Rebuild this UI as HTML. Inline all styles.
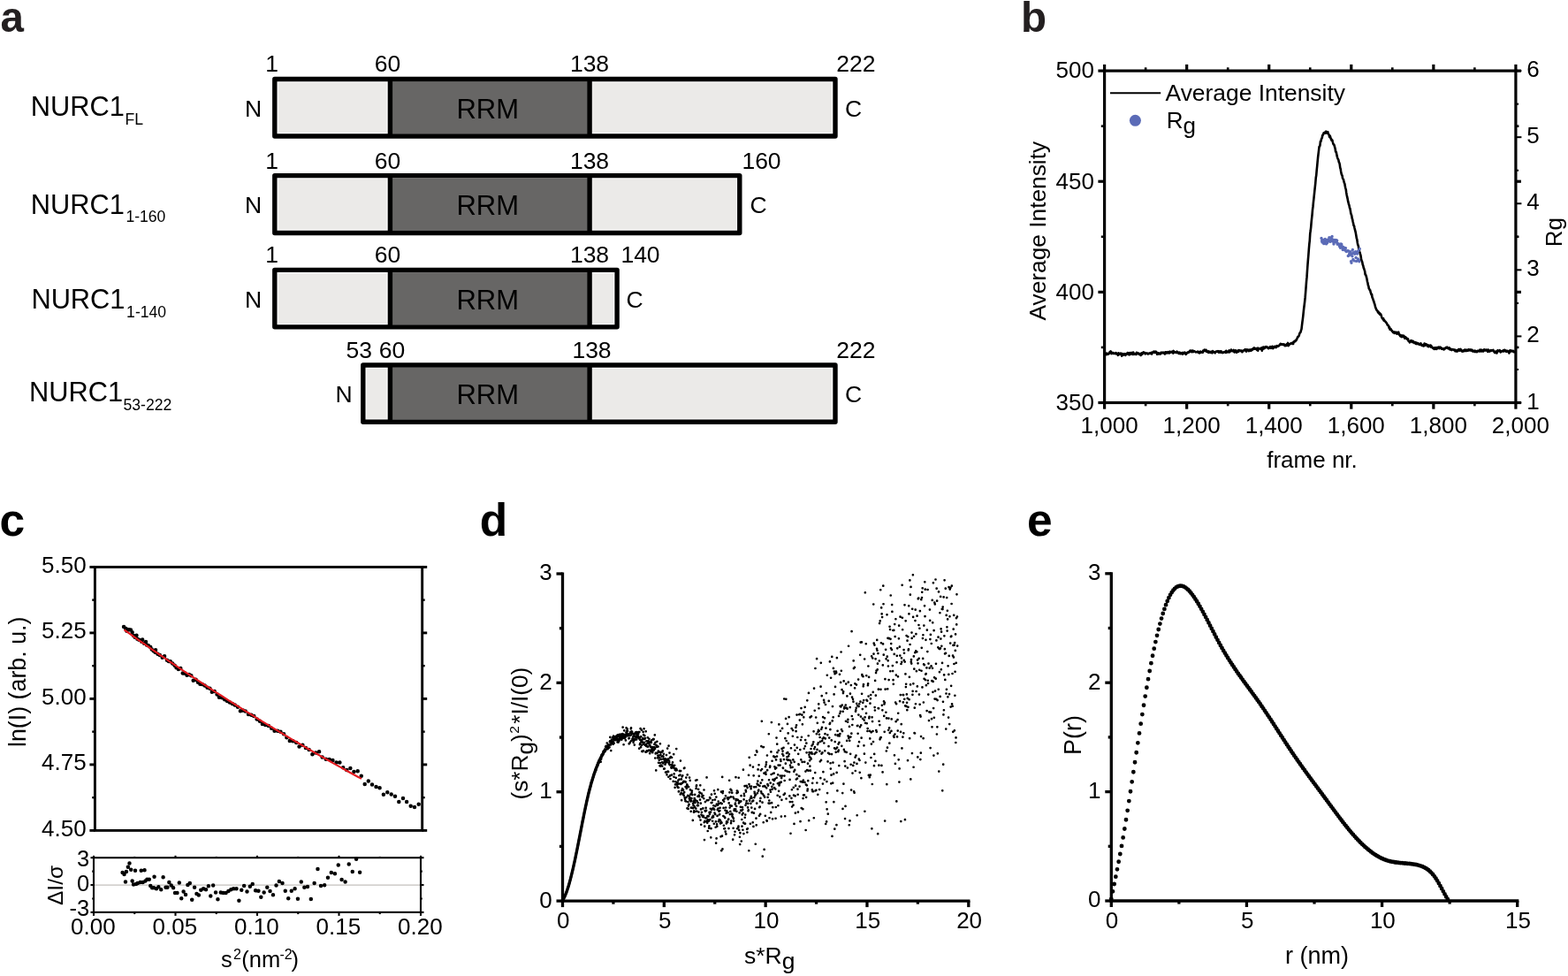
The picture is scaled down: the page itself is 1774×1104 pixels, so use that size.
<!DOCTYPE html>
<html><head><meta charset="utf-8"><title>NURC1 SAXS figure</title>
<style>
html,body{margin:0;padding:0;background:#fff;}
body{width:1774px;height:1104px;overflow:hidden;}
svg{display:block;font-family:'Liberation Sans', Arial, Helvetica, sans-serif;}
</style></head><body>
<svg width="1774" height="1104" viewBox="0 0 1774 1104">
<rect width="1774" height="1104" fill="#fff"/>
<text x="0.5" y="35.9" font-size="47.5" text-anchor="start" font-weight="bold" fill="#231f20" >a</text>
<text x="1154.9" y="35.9" font-size="47.5" text-anchor="start" font-weight="bold" fill="#231f20" >b</text>
<text x="-0.4" y="605.6" font-size="51.5" text-anchor="start" font-weight="bold" >c</text>
<text x="542.8" y="605.6" font-size="51.5" text-anchor="start" font-weight="bold" >d</text>
<text x="1162.1" y="605.6" font-size="51.5" text-anchor="start" font-weight="bold" >e</text>
<rect x="314.7" y="93.35" width="626.4" height="56.7" fill="#ebeae8"/>
<rect x="441.4" y="92.15" width="225.7" height="59.1" fill="#676665"/>
<rect x="437.4" y="92.15" width="1.3" height="59.1" fill="#fff"/>
<line x1="441.4" y1="89.45" x2="441.4" y2="153.95" stroke="#000" stroke-width="5.4"/>
<line x1="667.1" y1="89.45" x2="667.1" y2="153.95" stroke="#000" stroke-width="5.4"/>
<rect x="310.8" y="89.45" width="634.2" height="64.5" fill="none" stroke="#000" stroke-width="5.4" stroke-linejoin="round"/>
<text x="551.75" y="133.8" font-size="31" text-anchor="middle" >RRM</text>
<text x="286.6" y="131.9" font-size="26.5" text-anchor="middle" >N</text>
<text x="965.6" y="131.9" font-size="26.5" text-anchor="middle" >C</text>
<text x="307.5" y="81.45" font-size="26.5" text-anchor="middle" >1</text>
<text x="438.5" y="81.45" font-size="26.5" text-anchor="middle" >60</text>
<text x="667" y="81.45" font-size="26.5" text-anchor="middle" >138</text>
<text x="968.3" y="81.45" font-size="26.5" text-anchor="middle" >222</text>
<text x="34.7" y="131.3" font-size="30.8" text-anchor="start" >NURC1</text>
<text x="141.6" y="141" font-size="17.6" text-anchor="start" >FL</text>
<rect x="314.7" y="202.5" width="518.2" height="57.1" fill="#ebeae8"/>
<rect x="441.4" y="201.3" width="225.7" height="59.5" fill="#676665"/>
<rect x="437.4" y="201.3" width="1.3" height="59.5" fill="#fff"/>
<line x1="441.4" y1="198.6" x2="441.4" y2="263.5" stroke="#000" stroke-width="5.4"/>
<line x1="667.1" y1="198.6" x2="667.1" y2="263.5" stroke="#000" stroke-width="5.4"/>
<rect x="310.8" y="198.6" width="526" height="64.9" fill="none" stroke="#000" stroke-width="5.4" stroke-linejoin="round"/>
<text x="551.75" y="243.15" font-size="31" text-anchor="middle" >RRM</text>
<text x="286.6" y="241.25" font-size="26.5" text-anchor="middle" >N</text>
<text x="858" y="241.25" font-size="26.5" text-anchor="middle" >C</text>
<text x="307.5" y="190.6" font-size="26.5" text-anchor="middle" >1</text>
<text x="438.5" y="190.6" font-size="26.5" text-anchor="middle" >60</text>
<text x="667" y="190.6" font-size="26.5" text-anchor="middle" >138</text>
<text x="861.5" y="190.6" font-size="26.5" text-anchor="middle" >160</text>
<text x="34.7" y="241.7" font-size="30.8" text-anchor="start" >NURC1</text>
<text x="142.4" y="251.4" font-size="17.6" text-anchor="start" >1-160</text>
<rect x="314.7" y="309.25" width="379.5" height="56.7" fill="#ebeae8"/>
<rect x="441.4" y="308.05" width="225.7" height="59.1" fill="#676665"/>
<rect x="437.4" y="308.05" width="1.3" height="59.1" fill="#fff"/>
<line x1="441.4" y1="305.35" x2="441.4" y2="369.85" stroke="#000" stroke-width="5.4"/>
<line x1="667.1" y1="305.35" x2="667.1" y2="369.85" stroke="#000" stroke-width="5.4"/>
<rect x="310.8" y="305.35" width="387.3" height="64.5" fill="none" stroke="#000" stroke-width="5.4" stroke-linejoin="round"/>
<text x="551.75" y="349.7" font-size="31" text-anchor="middle" >RRM</text>
<text x="286.6" y="347.8" font-size="26.5" text-anchor="middle" >N</text>
<text x="718" y="347.8" font-size="26.5" text-anchor="middle" >C</text>
<text x="307.5" y="297.35" font-size="26.5" text-anchor="middle" >1</text>
<text x="438.5" y="297.35" font-size="26.5" text-anchor="middle" >60</text>
<text x="667" y="297.35" font-size="26.5" text-anchor="middle" >138</text>
<text x="724.5" y="297.35" font-size="26.5" text-anchor="middle" >140</text>
<text x="35.4" y="348.9" font-size="30.8" text-anchor="start" >NURC1</text>
<text x="143.1" y="358.6" font-size="17.6" text-anchor="start" >1-140</text>
<rect x="414.7" y="416.9" width="526.4" height="56.5" fill="#ebeae8"/>
<rect x="441.4" y="415.7" width="225.7" height="58.9" fill="#676665"/>
<rect x="437.4" y="415.7" width="1.3" height="58.9" fill="#fff"/>
<line x1="441.4" y1="413" x2="441.4" y2="477.3" stroke="#000" stroke-width="5.4"/>
<line x1="667.1" y1="413" x2="667.1" y2="477.3" stroke="#000" stroke-width="5.4"/>
<rect x="410.8" y="413" width="534.2" height="64.3" fill="none" stroke="#000" stroke-width="5.4" stroke-linejoin="round"/>
<text x="551.75" y="457.25" font-size="31" text-anchor="middle" >RRM</text>
<text x="389" y="455.35" font-size="26.5" text-anchor="middle" >N</text>
<text x="965.6" y="455.35" font-size="26.5" text-anchor="middle" >C</text>
<text x="406.3" y="405" font-size="26.5" text-anchor="middle" >53</text>
<text x="443.4" y="405" font-size="26.5" text-anchor="middle" >60</text>
<text x="669.5" y="405" font-size="26.5" text-anchor="middle" >138</text>
<text x="968.3" y="405" font-size="26.5" text-anchor="middle" >222</text>
<text x="33" y="454" font-size="30.8" text-anchor="start" >NURC1</text>
<text x="139.5" y="463.7" font-size="17.6" text-anchor="start" >53-222</text>
<polyline points="1249.6,401.01 1250.07,400.56 1250.53,400.45 1251,400.62 1251.46,399.91 1251.93,401.15 1252.39,399.67 1252.86,400.84 1253.32,400.5 1253.79,400.3 1254.25,400.33 1254.72,400 1255.18,398.59 1255.65,398.14 1256.11,398.48 1256.58,397.35 1257.04,398.43 1257.51,400.12 1257.98,398.98 1258.44,399.66 1258.91,398.79 1259.37,399.83 1259.84,399.83 1260.3,399.48 1260.77,399.68 1261.23,400.16 1261.7,399.68 1262.16,400.06 1262.63,399.19 1263.09,400.07 1263.56,400.22 1264.02,400.82 1264.49,400.52 1264.95,401.83 1265.42,399.32 1265.89,400.2 1266.35,400.93 1266.82,400.31 1267.28,399.77 1267.75,400.34 1268.21,399.66 1268.68,400.36 1269.14,402.62 1269.61,402.01 1270.07,399.96 1270.54,400.53 1271,400.72 1271.47,401.47 1271.93,400.72 1272.4,400.23 1272.87,401.14 1273.33,401.83 1273.8,400.87 1274.26,400.32 1274.73,399.97 1275.19,400.32 1275.66,399.08 1276.12,400.52 1276.59,399.24 1277.05,400.32 1277.52,401.4 1277.98,400.74 1278.45,399.08 1278.91,400.78 1279.38,400.56 1279.84,399.33 1280.31,398.93 1280.78,399.45 1281.24,399.09 1281.71,401.05 1282.17,398.44 1282.64,399.68 1283.1,400.71 1283.57,400.64 1284.03,400.44 1284.5,400.4 1284.96,400.15 1285.43,401 1285.89,398.78 1286.36,399.64 1286.82,399.2 1287.29,400.09 1287.75,400.22 1288.22,399.55 1288.69,399.94 1289.15,401 1289.62,401.01 1290.08,400.5 1290.55,401.96 1291.01,401.58 1291.48,399.41 1291.94,399.82 1292.41,400.67 1292.87,399.25 1293.34,398.66 1293.8,398.28 1294.27,399.03 1294.73,398.89 1295.2,398.97 1295.66,400.34 1296.13,399.86 1296.6,400.02 1297.06,399.45 1297.53,399.71 1297.99,399.56 1298.46,399.87 1298.92,400.51 1299.39,399.97 1299.85,399.8 1300.32,399.83 1300.78,399.22 1301.25,399.22 1301.71,399.43 1302.18,400.1 1302.64,398.82 1303.11,400.51 1303.57,399.1 1304.04,398.55 1304.51,398.53 1304.97,397.77 1305.44,398.47 1305.9,397.62 1306.37,398.96 1306.83,398.11 1307.3,397.72 1307.76,398.57 1308.23,397.95 1308.69,399.23 1309.16,400.74 1309.62,400.26 1310.09,399.21 1310.55,399.29 1311.02,400.5 1311.48,400.33 1311.95,399.65 1312.42,399.86 1312.88,400.49 1313.35,399.69 1313.81,398.68 1314.28,399.4 1314.74,399.21 1315.21,398.87 1315.67,398.61 1316.14,399.29 1316.6,398.76 1317.07,399.47 1317.53,399.21 1318,400.49 1318.46,398.22 1318.93,398.27 1319.4,398.2 1319.86,399.09 1320.33,399.41 1320.79,398.19 1321.26,398.17 1321.72,398.13 1322.19,398.53 1322.65,399.55 1323.12,398.63 1323.58,397.68 1324.05,398.54 1324.51,398.67 1324.98,398.58 1325.44,398.1 1325.91,398.48 1326.37,397.55 1326.84,398.38 1327.31,399.53 1327.77,396.91 1328.24,398.35 1328.7,398.74 1329.17,398.32 1329.63,398.19 1330.1,398.54 1330.56,398.73 1331.03,399.17 1331.49,397.64 1331.96,398.76 1332.42,398.25 1332.89,398.75 1333.35,399.51 1333.82,399.98 1334.28,399.8 1334.75,398.66 1335.22,399.8 1335.68,400.19 1336.15,399.8 1336.61,399.9 1337.08,399.08 1337.54,399.43 1338.01,400.64 1338.47,398.93 1338.94,400.01 1339.4,399.26 1339.87,399.43 1340.33,398.51 1340.8,399.02 1341.26,399.79 1341.73,400.85 1342.19,400.18 1342.66,399.4 1343.13,399.31 1343.59,398.51 1344.06,398.99 1344.52,398.31 1344.99,397.96 1345.45,398.37 1345.92,397.82 1346.38,396.71 1346.85,397.29 1347.31,396.93 1347.78,396.62 1348.24,398.14 1348.71,398.01 1349.17,396.61 1349.64,397.45 1350.1,398 1350.57,396.99 1351.04,397.13 1351.5,397.46 1351.97,397.69 1352.43,397.88 1352.9,398.4 1353.36,398.32 1353.83,398.1 1354.29,398.18 1354.76,398.11 1355.22,397.51 1355.69,398.23 1356.15,398.97 1356.62,398.46 1357.08,399.43 1357.55,398.17 1358.01,397.6 1358.48,398.66 1358.95,398.54 1359.41,398.04 1359.88,398.4 1360.34,398.79 1360.81,398.73 1361.27,396.57 1361.74,397.24 1362.2,396.85 1362.67,395.61 1363.13,396.25 1363.6,396.88 1364.06,395.88 1364.53,395.76 1364.99,397.58 1365.46,396.92 1365.93,397.37 1366.39,398.4 1366.86,398.12 1367.32,397.43 1367.79,398.85 1368.25,398.48 1368.72,397.96 1369.18,398.28 1369.65,398.75 1370.11,397.73 1370.58,398.58 1371.04,397.75 1371.51,399.3 1371.97,397.11 1372.44,398.28 1372.9,397.73 1373.37,398.26 1373.84,398.33 1374.3,398.98 1374.77,399.33 1375.23,398.05 1375.7,397.91 1376.16,397.45 1376.63,397.69 1377.09,397.55 1377.56,397.75 1378.02,397 1378.49,398.4 1378.95,398.69 1379.42,397.88 1379.88,397.27 1380.35,397.58 1380.81,397.38 1381.28,398.74 1381.75,397.36 1382.21,398.77 1382.68,398.62 1383.14,399.05 1383.61,398.79 1384.07,398.27 1384.54,398.62 1385,398.3 1385.47,398.09 1385.93,397.81 1386.4,398.07 1386.86,398.99 1387.33,396.77 1387.79,397.83 1388.26,397.6 1388.72,398.37 1389.19,398.35 1389.66,397.55 1390.12,397.75 1390.59,396.45 1391.05,398.46 1391.52,396.87 1391.98,397.39 1392.45,397.03 1392.91,395.48 1393.38,396.43 1393.84,396.95 1394.31,397.26 1394.77,396.83 1395.24,396.64 1395.7,395.84 1396.17,397.91 1396.63,398.46 1397.1,397.27 1397.57,397.39 1398.03,396.29 1398.5,397.7 1398.96,398.74 1399.43,397.66 1399.89,397.98 1400.36,397.64 1400.82,396.36 1401.29,397.82 1401.75,396.18 1402.22,396.34 1402.68,396.41 1403.15,396.57 1403.61,396.6 1404.08,397.25 1404.54,396.52 1405.01,396.66 1405.48,398.26 1405.94,397.36 1406.41,397.06 1406.87,396.38 1407.34,396.41 1407.8,395.89 1408.27,396.26 1408.73,395.26 1409.2,396.13 1409.66,396.25 1410.13,397.62 1410.59,395.4 1411.06,395.51 1411.52,396.24 1411.99,395.69 1412.46,395.8 1412.92,397.17 1413.39,395.79 1413.85,395.45 1414.32,395.75 1414.78,396.77 1415.25,396.8 1415.71,395.3 1416.18,395.53 1416.64,395.88 1417.11,395.34 1417.57,394.28 1418.04,395.02 1418.5,394.88 1418.97,393.4 1419.43,394.02 1419.9,394.75 1420.37,394.66 1420.83,394.04 1421.3,394.97 1421.76,395.36 1422.23,395.95 1422.69,393.71 1423.16,396.67 1423.62,393.88 1424.09,394.49 1424.55,394.23 1425.02,394.53 1425.48,394.58 1425.95,394.04 1426.41,394.97 1426.88,394.56 1427.34,393.35 1427.81,396.7 1428.28,394.98 1428.74,394.94 1429.21,392.55 1429.67,394.26 1430.14,394.08 1430.6,394.09 1431.07,393.46 1431.53,392.31 1432,393 1432.46,392.17 1432.93,392.29 1433.39,393.26 1433.86,392.76 1434.32,392.98 1434.79,393.09 1435.25,394.21 1435.72,393.94 1436.19,393.09 1436.65,393.37 1437.12,392.2 1437.58,392.5 1438.05,393.88 1438.51,392.68 1438.98,392.89 1439.44,391.77 1439.91,393.77 1440.37,394.21 1440.84,392.98 1441.3,392.95 1441.77,392.36 1442.23,391.76 1442.7,391.83 1443.16,392.95 1443.63,393.12 1444.1,391.77 1444.56,391.24 1445.03,391.68 1445.49,391.29 1445.96,391.86 1446.42,391.19 1446.89,391.29 1447.35,390.89 1447.82,389.92 1448.28,389.94 1448.75,388.85 1449.21,389.65 1449.68,389.23 1450.14,389.64 1450.61,389.3 1451.07,389.76 1451.54,389.9 1452.01,389.29 1452.47,389.45 1452.94,389.46 1453.4,390.61 1453.87,391.22 1454.33,390.76 1454.8,390.04 1455.26,391 1455.73,389.25 1456.19,390.77 1456.66,389.63 1457.12,387.92 1457.59,391.17 1458.05,390.71 1458.52,389.21 1458.99,389.68 1459.45,389.23 1459.92,388.9 1460.38,388.34 1460.85,388.46 1461.31,388.53 1461.78,387.96 1462.24,388.93 1462.71,387.67 1463.17,389 1463.64,386.55 1464.1,386.87 1464.57,385.84 1465.03,385.61 1465.5,386.17 1465.96,384.8 1466.43,385.12 1466.9,384.38 1467.36,383.07 1467.83,382.25 1468.29,381.02 1468.76,380.86 1469.22,380.45 1469.69,379.67 1470.15,377.69 1470.62,376.57 1471.08,376.24 1471.55,375.49 1472.01,373.66 1472.48,372.37 1472.94,368.47 1473.41,364.51 1473.87,361.07 1474.34,357.08 1474.81,352.37 1475.27,348.24 1475.74,344.66 1476.2,340.74 1476.67,336.19 1477.13,330.32 1477.6,324.41 1478.06,318.15 1478.53,313.38 1478.99,306.08 1479.46,299.71 1479.92,293.55 1480.39,288.17 1480.85,281.72 1481.32,276.2 1481.78,272.02 1482.25,264.14 1482.72,261.07 1483.18,257.04 1483.65,251.39 1484.11,246.9 1484.58,242.53 1485.04,236.98 1485.51,233.48 1485.97,228.48 1486.44,224.44 1486.9,219.8 1487.37,215.3 1487.83,211.2 1488.3,206.76 1488.76,200.99 1489.23,198.33 1489.69,192.66 1490.16,188.17 1490.63,182.86 1491.09,178.2 1491.56,174.15 1492.02,170.33 1492.49,166.12 1492.95,165.57 1493.42,164.63 1493.88,160.05 1494.35,160.17 1494.81,158.01 1495.28,156.53 1495.74,155.95 1496.21,152.98 1496.67,152.74 1497.14,152 1497.6,150.37 1498.07,150.19 1498.54,150.05 1499,149.6 1499.47,150.63 1499.93,148.76 1500.4,150.31 1500.86,148.96 1501.33,150.42 1501.79,150.08 1502.26,149.25 1502.72,151.57 1503.19,151.77 1503.65,152.74 1504.12,154.87 1504.58,153.37 1505.05,154.54 1505.52,156.82 1505.98,156.83 1506.45,158.68 1506.91,158.74 1507.38,158.68 1507.84,160.75 1508.31,162.54 1508.77,163.41 1509.24,163.49 1509.7,164.81 1510.17,166.57 1510.63,168.24 1511.1,171.52 1511.56,171.76 1512.03,173.23 1512.49,175.87 1512.96,177.64 1513.43,179.24 1513.89,179.93 1514.36,180.99 1514.82,183.41 1515.29,184.15 1515.75,185.99 1516.22,189.71 1516.68,190.97 1517.15,194.01 1517.61,196.52 1518.08,197.96 1518.54,198.57 1519.01,201.49 1519.47,202.36 1519.94,203.07 1520.4,205.04 1520.87,206.87 1521.34,207.75 1521.8,210.55 1522.27,212.85 1522.73,214.1 1523.2,217.89 1523.66,220.49 1524.13,222.61 1524.59,224.62 1525.06,227.39 1525.52,229.06 1525.99,231.18 1526.45,232.11 1526.92,235.17 1527.38,235.68 1527.85,238.19 1528.31,241.39 1528.78,242.52 1529.25,244 1529.71,246.99 1530.18,248.25 1530.64,250.74 1531.11,252.77 1531.57,255.19 1532.04,255.39 1532.5,257.95 1532.97,259.81 1533.43,261.63 1533.9,263.85 1534.36,266.51 1534.83,269.56 1535.29,270.77 1535.76,274.29 1536.22,276.77 1536.69,277.84 1537.16,280.21 1537.62,282.95 1538.09,284.35 1538.55,285.59 1539.02,287.79 1539.48,289.04 1539.95,292.21 1540.41,294.49 1540.88,295.51 1541.34,296.98 1541.81,299.66 1542.27,300.49 1542.74,302.9 1543.2,303.89 1543.67,305.4 1544.13,306.72 1544.6,310.47 1545.07,310.56 1545.53,311.9 1546,313.7 1546.46,315.53 1546.93,318.29 1547.39,319.82 1547.86,322.8 1548.32,323.45 1548.79,326.5 1549.25,326.83 1549.72,328.18 1550.18,328.33 1550.65,330.49 1551.11,331.85 1551.58,333.29 1552.05,332.99 1552.51,336.45 1552.98,337.18 1553.44,338.68 1553.91,340.12 1554.37,341.11 1554.84,343 1555.3,344.06 1555.77,345.97 1556.23,347.95 1556.7,348.76 1557.16,350.08 1557.63,351.04 1558.09,351.24 1558.56,352.02 1559.02,353.22 1559.49,352.49 1559.96,354.37 1560.42,353.96 1560.89,354.19 1561.35,355.77 1561.82,355.11 1562.28,355.62 1562.75,357 1563.21,358.58 1563.68,359.84 1564.14,359.98 1564.61,361.11 1565.07,360.16 1565.54,362.62 1566,361.9 1566.47,362.84 1566.93,363.34 1567.4,363.65 1567.87,364.36 1568.33,364.97 1568.8,365.51 1569.26,366.31 1569.73,367.7 1570.19,367.63 1570.66,368.29 1571.12,368.71 1571.59,371.01 1572.05,370.22 1572.52,372.67 1572.98,371.74 1573.45,371.9 1573.91,373.24 1574.38,373.77 1574.84,373.76 1575.31,375.14 1575.78,375.26 1576.24,376.19 1576.71,375.92 1577.17,375.5 1577.64,376.9 1578.1,376.11 1578.57,376.15 1579.03,375.66 1579.5,375.75 1579.96,377.38 1580.43,376.08 1580.89,377.55 1581.36,377.4 1581.82,377.38 1582.29,375.66 1582.75,378 1583.22,378.71 1583.69,378.64 1584.15,380.06 1584.62,379.02 1585.08,380.72 1585.55,380.57 1586.01,381.09 1586.48,379.51 1586.94,381 1587.41,379.61 1587.87,380.56 1588.34,379.84 1588.8,380.58 1589.27,382.82 1589.73,381.25 1590.2,381.51 1590.66,382.38 1591.13,381.89 1591.6,383.39 1592.06,383.83 1592.53,383.11 1592.99,383.32 1593.46,385.64 1593.92,386.14 1594.39,386.14 1594.85,387.38 1595.32,386.35 1595.78,386.44 1596.25,385.28 1596.71,385.11 1597.18,386.43 1597.64,385.78 1598.11,387.04 1598.58,385.81 1599.04,386.2 1599.51,387.3 1599.97,387.99 1600.44,387.65 1600.9,387.02 1601.37,388.14 1601.83,388.96 1602.3,387.64 1602.76,387.74 1603.23,389.09 1603.69,389.01 1604.16,388.06 1604.62,388.98 1605.09,388.84 1605.55,389.79 1606.02,389.24 1606.49,389.81 1606.95,389.14 1607.42,388.3 1607.88,389.78 1608.35,390.74 1608.81,389.8 1609.28,391.03 1609.74,390.33 1610.21,390.19 1610.67,391.43 1611.14,389.96 1611.6,388.49 1612.07,390.87 1612.53,389.34 1613,389.62 1613.46,389.37 1613.93,389.47 1614.4,390.37 1614.86,391.47 1615.33,391.71 1615.79,390.42 1616.26,392.28 1616.72,390.78 1617.19,390.98 1617.65,391.52 1618.12,390.67 1618.58,390.49 1619.05,392.77 1619.51,391.58 1619.98,392.68 1620.44,392.79 1620.91,393.78 1621.37,393.61 1621.84,394.49 1622.31,393.65 1622.77,394.86 1623.24,393.38 1623.7,393.48 1624.17,394.82 1624.63,393.67 1625.1,393.13 1625.56,394.81 1626.03,393.67 1626.49,393.1 1626.96,393.67 1627.42,392.58 1627.89,393.95 1628.35,394.23 1628.82,392.81 1629.28,392.63 1629.75,393.65 1630.22,393.88 1630.68,393.41 1631.15,394.68 1631.61,394.06 1632.08,394.78 1632.54,394.89 1633.01,394.64 1633.47,395.45 1633.94,394.27 1634.4,395.01 1634.87,393.88 1635.33,393.65 1635.8,393.12 1636.26,393.37 1636.73,393.55 1637.19,392.71 1637.66,393.38 1638.13,394.06 1638.59,394.29 1639.06,394.41 1639.52,393.33 1639.99,393.66 1640.45,395.5 1640.92,395.18 1641.38,395.42 1641.85,394.99 1642.31,396.05 1642.78,395.67 1643.24,395.18 1643.71,395.32 1644.17,395.36 1644.64,395.84 1645.11,395.55 1645.57,396.44 1646.04,395.71 1646.5,397.26 1646.97,396.45 1647.43,397.28 1647.9,396.2 1648.36,396.23 1648.83,397.45 1649.29,396.55 1649.76,395.9 1650.22,395.11 1650.69,395.08 1651.15,396.72 1651.62,395.62 1652.08,396.34 1652.55,394.95 1653.02,396.13 1653.48,396.51 1653.95,397.52 1654.41,396.6 1654.88,397.57 1655.34,397.12 1655.81,396.29 1656.27,397.17 1656.74,397.09 1657.2,395.6 1657.67,396.92 1658.13,396.89 1658.6,396.13 1659.06,395.64 1659.53,396.79 1659.99,396.36 1660.46,396.81 1660.93,396.63 1661.39,395.27 1661.86,396.44 1662.32,395.48 1662.79,395.6 1663.25,395.75 1663.72,395.56 1664.18,396.6 1664.65,395.73 1665.11,395.65 1665.58,396.48 1666.04,397.47 1666.51,396.5 1666.97,397.24 1667.44,397.51 1667.9,397.53 1668.37,397.92 1668.84,396.65 1669.3,397.97 1669.77,397.62 1670.23,397.28 1670.7,397.01 1671.16,398.16 1671.63,396.71 1672.09,397.03 1672.56,397 1673.02,397.16 1673.49,397.31 1673.95,395.83 1674.42,397.54 1674.88,395.88 1675.35,396.68 1675.81,395.68 1676.28,397.54 1676.75,396.28 1677.21,396.84 1677.68,397.15 1678.14,397.49 1678.61,395.67 1679.07,396.45 1679.54,395.38 1680,396.14 1680.47,396.54 1680.93,396.43 1681.4,395.57 1681.86,396.04 1682.33,395.77 1682.79,397.04 1683.26,397.83 1683.72,395.55 1684.19,396.87 1684.66,396.88 1685.12,397.64 1685.59,396.52 1686.05,396.55 1686.52,396.01 1686.98,396.97 1687.45,396.44 1687.91,396.32 1688.38,396.44 1688.84,396.4 1689.31,395.83 1689.77,397.51 1690.24,397.64 1690.7,397.54 1691.17,399.01 1691.64,399.06 1692.1,397.6 1692.57,397.66 1693.03,399.33 1693.5,399.4 1693.96,397.43 1694.43,396.3 1694.89,397.04 1695.36,397.14 1695.82,396.78 1696.29,397.24 1696.75,396.13 1697.22,396.89 1697.68,398.43 1698.15,397.58 1698.61,397.13 1699.08,397.54 1699.55,397.4 1700.01,396.86 1700.48,396.86 1700.94,396.13 1701.41,397.51 1701.87,397.23 1702.34,395.77 1702.8,396.31 1703.27,396.48 1703.73,396.55 1704.2,397.89 1704.66,397.49 1705.13,396.89 1705.59,397.42 1706.06,397.12 1706.52,398.21 1706.99,398.32 1707.46,399.49 1707.92,397.92 1708.39,396.29 1708.85,397.17 1709.32,397.43 1709.78,396.75 1710.25,396.6 1710.71,397.13 1711.18,397.41 1711.64,397.26 1712.11,396.92 1712.57,398.07 1713.04,397.56 1713.5,397.8 1713.97,397.64 1714.43,398.5 1714.9,399.1" fill="none" stroke="#000" stroke-width="2.6" stroke-linejoin="round"/>
<path d="M1495 269.55h0M1495.47 272.43h0M1495.93 274.01h0M1496.4 272.37h0M1496.86 273.61h0M1497.33 271.45h0M1497.79 275.67h0M1498.26 275.37h0M1498.72 273.89h0M1499.19 270.45h0M1499.65 271.55h0M1500.12 274.83h0M1500.58 275.89h0M1501.05 273.26h0M1501.51 274.64h0M1501.98 271.23h0M1502.44 271.69h0M1502.91 271.78h0M1503.38 272.28h0M1503.84 268.78h0M1504.31 272.84h0M1504.77 273.39h0M1505.24 269.15h0M1505.7 268.81h0M1506.17 271.77h0M1506.63 270.18h0M1507.1 267.42h0M1507.56 273.02h0M1508.03 272.14h0M1508.49 271.31h0M1508.96 275.97h0M1509.42 272.86h0M1509.89 271.58h0M1510.35 273.24h0M1510.82 271.48h0M1511.29 272.08h0M1511.75 274.12h0M1512.22 271.59h0M1512.68 272.27h0M1513.15 276.37h0M1513.61 275.5h0M1514.08 275.9h0M1514.54 275.94h0M1515.01 276.36h0M1515.47 278.52h0M1515.94 276.51h0M1516.4 280.2h0M1516.87 275.93h0M1517.33 277.61h0M1517.8 276.2h0M1518.27 278.46h0M1518.73 280.43h0M1519.2 282.52h0M1519.66 279.42h0M1520.13 281.06h0M1520.59 280.94h0M1521.06 280.8h0M1521.52 280.53h0M1521.99 283.16h0M1522.45 280.61h0M1522.92 284.25h0M1523.38 284.59h0M1523.85 283.94h0M1524.31 283.84h0M1524.78 283.71h0M1525.24 289.48h0M1525.71 284.02h0M1526.18 288.95h0M1526.64 287.32h0M1527.11 285.68h0M1527.57 288.07h0M1528.04 284.71h0M1528.5 295.59h0M1528.97 297.2h0M1529.43 287.22h0M1529.9 289.86h0M1530.36 282.55h0M1530.83 293.56h0M1531.29 285.72h0M1531.76 294.81h0M1532.22 286.19h0M1532.69 287.18h0M1533.15 286.43h0M1533.62 284.74h0M1534.09 291.44h0M1534.55 295.42h0M1535.02 285h0M1535.48 287.1h0M1535.95 286.79h0M1536.41 292.85h0M1536.88 283.63h0M1537.34 294.06h0M1537.81 295.77h0M1538.27 281.51h0" stroke="#5b6bb7" stroke-width="3.4" stroke-linecap="round" fill="none"/>
<rect x="1249.6" y="80.1" width="465.3" height="375.4" fill="none" stroke="#000" stroke-width="3.2"/>
<line x1="1249.6" y1="455.5" x2="1249.6" y2="462.7" stroke="#000" stroke-width="3.2"/>
<line x1="1249.6" y1="80.1" x2="1249.6" y2="72.9" stroke="#000" stroke-width="3.2"/>
<line x1="1296.13" y1="455.5" x2="1296.13" y2="459.3" stroke="#000" stroke-width="2.6"/>
<line x1="1296.13" y1="80.1" x2="1296.13" y2="76.3" stroke="#000" stroke-width="2.6"/>
<line x1="1342.66" y1="455.5" x2="1342.66" y2="462.7" stroke="#000" stroke-width="3.2"/>
<line x1="1342.66" y1="80.1" x2="1342.66" y2="72.9" stroke="#000" stroke-width="3.2"/>
<line x1="1389.19" y1="455.5" x2="1389.19" y2="459.3" stroke="#000" stroke-width="2.6"/>
<line x1="1389.19" y1="80.1" x2="1389.19" y2="76.3" stroke="#000" stroke-width="2.6"/>
<line x1="1435.72" y1="455.5" x2="1435.72" y2="462.7" stroke="#000" stroke-width="3.2"/>
<line x1="1435.72" y1="80.1" x2="1435.72" y2="72.9" stroke="#000" stroke-width="3.2"/>
<line x1="1482.25" y1="455.5" x2="1482.25" y2="459.3" stroke="#000" stroke-width="2.6"/>
<line x1="1482.25" y1="80.1" x2="1482.25" y2="76.3" stroke="#000" stroke-width="2.6"/>
<line x1="1528.78" y1="455.5" x2="1528.78" y2="462.7" stroke="#000" stroke-width="3.2"/>
<line x1="1528.78" y1="80.1" x2="1528.78" y2="72.9" stroke="#000" stroke-width="3.2"/>
<line x1="1575.31" y1="455.5" x2="1575.31" y2="459.3" stroke="#000" stroke-width="2.6"/>
<line x1="1575.31" y1="80.1" x2="1575.31" y2="76.3" stroke="#000" stroke-width="2.6"/>
<line x1="1621.84" y1="455.5" x2="1621.84" y2="462.7" stroke="#000" stroke-width="3.2"/>
<line x1="1621.84" y1="80.1" x2="1621.84" y2="72.9" stroke="#000" stroke-width="3.2"/>
<line x1="1668.37" y1="455.5" x2="1668.37" y2="459.3" stroke="#000" stroke-width="2.6"/>
<line x1="1668.37" y1="80.1" x2="1668.37" y2="76.3" stroke="#000" stroke-width="2.6"/>
<line x1="1714.9" y1="455.5" x2="1714.9" y2="462.7" stroke="#000" stroke-width="3.2"/>
<line x1="1714.9" y1="80.1" x2="1714.9" y2="72.9" stroke="#000" stroke-width="3.2"/>
<line x1="1249.6" y1="455.5" x2="1242.4" y2="455.5" stroke="#000" stroke-width="3.2"/>
<line x1="1714.9" y1="455.5" x2="1720.9" y2="455.5" stroke="#000" stroke-width="3.2"/>
<line x1="1249.6" y1="392.93" x2="1245.8" y2="392.93" stroke="#000" stroke-width="2.6"/>
<line x1="1714.9" y1="392.93" x2="1718.4" y2="392.93" stroke="#000" stroke-width="2.6"/>
<line x1="1249.6" y1="330.37" x2="1242.4" y2="330.37" stroke="#000" stroke-width="3.2"/>
<line x1="1714.9" y1="330.37" x2="1720.9" y2="330.37" stroke="#000" stroke-width="3.2"/>
<line x1="1249.6" y1="267.8" x2="1245.8" y2="267.8" stroke="#000" stroke-width="2.6"/>
<line x1="1714.9" y1="267.8" x2="1718.4" y2="267.8" stroke="#000" stroke-width="2.6"/>
<line x1="1249.6" y1="205.23" x2="1242.4" y2="205.23" stroke="#000" stroke-width="3.2"/>
<line x1="1714.9" y1="205.23" x2="1720.9" y2="205.23" stroke="#000" stroke-width="3.2"/>
<line x1="1249.6" y1="142.67" x2="1245.8" y2="142.67" stroke="#000" stroke-width="2.6"/>
<line x1="1714.9" y1="142.67" x2="1718.4" y2="142.67" stroke="#000" stroke-width="2.6"/>
<line x1="1249.6" y1="80.1" x2="1242.4" y2="80.1" stroke="#000" stroke-width="3.2"/>
<line x1="1714.9" y1="80.1" x2="1720.9" y2="80.1" stroke="#000" stroke-width="3.2"/>
<line x1="1714.9" y1="455.5" x2="1721.4" y2="455.5" stroke="#000" stroke-width="2.0"/>
<line x1="1714.9" y1="417.96" x2="1718.1" y2="417.96" stroke="#000" stroke-width="2.0"/>
<line x1="1714.9" y1="380.42" x2="1721.4" y2="380.42" stroke="#000" stroke-width="2.0"/>
<line x1="1714.9" y1="342.88" x2="1718.1" y2="342.88" stroke="#000" stroke-width="2.0"/>
<line x1="1714.9" y1="305.34" x2="1721.4" y2="305.34" stroke="#000" stroke-width="2.0"/>
<line x1="1714.9" y1="267.8" x2="1718.1" y2="267.8" stroke="#000" stroke-width="2.0"/>
<line x1="1714.9" y1="230.26" x2="1721.4" y2="230.26" stroke="#000" stroke-width="2.0"/>
<line x1="1714.9" y1="192.72" x2="1718.1" y2="192.72" stroke="#000" stroke-width="2.0"/>
<line x1="1714.9" y1="155.18" x2="1721.4" y2="155.18" stroke="#000" stroke-width="2.0"/>
<line x1="1714.9" y1="117.64" x2="1718.1" y2="117.64" stroke="#000" stroke-width="2.0"/>
<line x1="1714.9" y1="80.1" x2="1721.4" y2="80.1" stroke="#000" stroke-width="2.0"/>
<line x1="1256" y1="105.3" x2="1313.2" y2="105.3" stroke="#000" stroke-width="2.1"/>
<text x="1318.5" y="114.2" font-size="26.4" text-anchor="start" >Average Intensity</text>
<circle cx="1284.4" cy="136.3" r="6.5" fill="#5b6bb7"/>
<text x="1319.8" y="145" font-size="26">R<tspan dy="6" font-size="26">g</tspan></text>
<text x="1255.1" y="490.4" font-size="26" text-anchor="middle" >1,000</text>
<text x="1348.16" y="490.4" font-size="26" text-anchor="middle" >1,200</text>
<text x="1441.22" y="490.4" font-size="26" text-anchor="middle" >1,400</text>
<text x="1534.28" y="490.4" font-size="26" text-anchor="middle" >1,600</text>
<text x="1627.34" y="490.4" font-size="26" text-anchor="middle" >1,800</text>
<text x="1720.4" y="490.4" font-size="26" text-anchor="middle" >2,000</text>
<text x="1238" y="463.8" font-size="26" text-anchor="end" >350</text>
<text x="1238" y="338.67" font-size="26" text-anchor="end" >400</text>
<text x="1238" y="213.53" font-size="26" text-anchor="end" >450</text>
<text x="1238" y="88.4" font-size="26" text-anchor="end" >500</text>
<text x="1727.3" y="462.5" font-size="26" text-anchor="start" >1</text>
<text x="1727.3" y="387.42" font-size="26" text-anchor="start" >2</text>
<text x="1727.3" y="312.34" font-size="26" text-anchor="start" >3</text>
<text x="1727.3" y="237.26" font-size="26" text-anchor="start" >4</text>
<text x="1727.3" y="162.18" font-size="26" text-anchor="start" >5</text>
<text x="1727.3" y="87.1" font-size="26" text-anchor="start" >6</text>
<text x="1484.5" y="528.6" font-size="26" text-anchor="middle" >frame nr.</text>
<text transform="translate(1182.8,261.2) rotate(-90)" font-size="26.3" text-anchor="middle">Average Intensity</text>
<text transform="translate(1767,262.7) rotate(-90)" font-size="26" text-anchor="middle">Rg</text>
<path d="M140.05 709.08h0M141.97 710.86h0M143.41 713.73h0M144.37 711.95h0M146.28 712.18h0M147.92 712.41h0M149.64 715.17h0M151.08 718.96h0M152.52 720.79h0M154.44 718.76h0M155.4 722.72h0M157.31 723.86h0M160.19 725.67h0M161.15 723.47h0M163.07 727.68h0M164.99 726.05h0M165.95 729.38h0M167.86 730.31h0M170.26 731.97h0M171.7 734.51h0M173.62 736.35h0M175.54 737.67h0M176.02 735.34h0M178.41 739.86h0M180.81 741.1h0M183.69 743.69h0M186.09 742.36h0M188.96 746.78h0M190.88 748.09h0M192.8 748.16h0M195.2 750.51h0M197.59 752.75h0M199.51 755.28h0M201.91 756.89h0M204.31 756.05h0M206.71 761.45h0M209.1 761.42h0M211.5 763.74h0M213.9 762.98h0M216.3 764.16h0M218.69 769.75h0M221.57 768.69h0M223.97 771.81h0M226.37 773.69h0M228.76 774.04h0M231.64 775.62h0M234.52 777.71h0M237.4 778.76h0M239.79 782.68h0M242.67 781.99h0M245.55 785.59h0M247.95 788.78h0M251.3 789.3h0M254.18 791.25h0M257.06 793.09h0M259.93 794.51h0M262.81 795.93h0M265.69 797.55h0M269.05 799.68h0M271.92 804.36h0M274.8 803.61h0M277.68 804.39h0M281.03 807.92h0M284.39 808.78h0M287.27 809.95h0M290.62 813.56h0M293.98 815.74h0M296.86 819.04h0M300.21 819.97h0M303.83 820.95h0M307.09 823.85h0M310.54 826.81h0M314.09 826.7h0M317.44 827.75h0M321.09 830.35h0M324.35 834.14h0M327.8 838.04h0M331.35 838.3h0M335.19 840.05h0M338.54 844.49h0M342.38 842.64h0M345.93 846.04h0M349.57 848h0M353.41 853.21h0M357.25 851.57h0M361.08 850.35h0M364.63 856.42h0M368.75 858.63h0M372.59 859h0M376.43 859.93h0M380.55 862.5h0M384.39 862.56h0M388.22 868.22h0M392.25 871.03h0M396.37 869h0M400.4 873.06h0M404.72 872.34h0M408.75 877.78h0M412.7 887h0M416.8 883.5h0M421 887.5h0M425.5 890h0M429.6 891.3h0M433.9 898.7h0M438.3 896.2h0M442.7 898.5h0M447 900.7h0M451.3 907.1h0M456 903h0M460.1 907.1h0M464.7 911.7h0M469 913h0M473.7 909.8h0" stroke="#000" stroke-width="4.5" stroke-linecap="round" fill="none"/>
<polyline points="140.5,712.4 145.05,715.64 149.6,718.86 154.15,722.07 158.7,725.27 163.25,728.45 167.81,731.62 172.36,734.78 176.91,737.92 181.46,741.06 186.01,744.17 190.56,747.28 195.11,750.37 199.66,753.45 204.21,756.52 208.76,759.57 213.31,762.61 217.86,765.64 222.42,768.65 226.97,771.65 231.52,774.64 236.07,777.62 240.62,780.58 245.17,783.53 249.72,786.46 254.27,789.38 258.82,792.29 263.37,795.19 267.92,798.07 272.47,800.94 277.03,803.8 281.58,806.64 286.13,809.47 290.68,812.29 295.23,815.09 299.78,817.89 304.33,820.66 308.88,823.43 313.43,826.18 317.98,828.92 322.53,831.65 327.08,834.36 331.64,837.06 336.19,839.75 340.74,842.42 345.29,845.08 349.84,847.73 354.39,850.36 358.94,852.98 363.49,855.59 368.04,858.19 372.59,860.77 377.14,863.34 381.69,865.89 386.25,868.43 390.8,870.96 395.35,873.48 399.9,875.98 404.45,878.47 409,880.95" fill="none" stroke="#e3191f" stroke-width="2.1"/>
<rect x="107.4" y="641.4" width="370.3" height="298" fill="none" stroke="#000" stroke-width="2.9"/>
<line x1="107.4" y1="641.4" x2="101.4" y2="641.4" stroke="#000" stroke-width="2.9"/>
<line x1="477.7" y1="641.4" x2="483.2" y2="641.4" stroke="#000" stroke-width="2.9"/>
<line x1="107.4" y1="678.65" x2="104.2" y2="678.65" stroke="#000" stroke-width="2.4"/>
<line x1="477.7" y1="678.65" x2="480.7" y2="678.65" stroke="#000" stroke-width="2.4"/>
<line x1="107.4" y1="715.9" x2="101.4" y2="715.9" stroke="#000" stroke-width="2.9"/>
<line x1="477.7" y1="715.9" x2="483.2" y2="715.9" stroke="#000" stroke-width="2.9"/>
<line x1="107.4" y1="753.15" x2="104.2" y2="753.15" stroke="#000" stroke-width="2.4"/>
<line x1="477.7" y1="753.15" x2="480.7" y2="753.15" stroke="#000" stroke-width="2.4"/>
<line x1="107.4" y1="790.4" x2="101.4" y2="790.4" stroke="#000" stroke-width="2.9"/>
<line x1="477.7" y1="790.4" x2="483.2" y2="790.4" stroke="#000" stroke-width="2.9"/>
<line x1="107.4" y1="827.65" x2="104.2" y2="827.65" stroke="#000" stroke-width="2.4"/>
<line x1="477.7" y1="827.65" x2="480.7" y2="827.65" stroke="#000" stroke-width="2.4"/>
<line x1="107.4" y1="864.9" x2="101.4" y2="864.9" stroke="#000" stroke-width="2.9"/>
<line x1="477.7" y1="864.9" x2="483.2" y2="864.9" stroke="#000" stroke-width="2.9"/>
<line x1="107.4" y1="902.15" x2="104.2" y2="902.15" stroke="#000" stroke-width="2.4"/>
<line x1="477.7" y1="902.15" x2="480.7" y2="902.15" stroke="#000" stroke-width="2.4"/>
<line x1="107.4" y1="939.4" x2="101.4" y2="939.4" stroke="#000" stroke-width="2.9"/>
<line x1="477.7" y1="939.4" x2="483.2" y2="939.4" stroke="#000" stroke-width="2.9"/>
<text x="97.6" y="647.5" font-size="26" text-anchor="end" >5.50</text>
<text x="97.6" y="722" font-size="26" text-anchor="end" >5.25</text>
<text x="97.6" y="796.5" font-size="26" text-anchor="end" >5.00</text>
<text x="97.6" y="871" font-size="26" text-anchor="end" >4.75</text>
<text x="97.6" y="945.5" font-size="26" text-anchor="end" >4.50</text>
<text transform="translate(29.3,771.3) rotate(-90)" font-size="26.8" text-anchor="middle">ln(I) (arb. u.)</text>
<line x1="106.0" y1="1001.05" x2="476.0" y2="1001.05" stroke="#c3c0bc" stroke-width="1.3"/>
<path d="M138.62 987.04h0M140.54 988.96h0M141.98 997.58h0M142.94 986.08h0M144.85 980.81h0M146.48 976.5h0M148.21 983.69h0M149.64 996.62h0M151.08 1000.46h0M153 984.64h0M153.96 999.98h0M155.87 999.02h0M158.75 998.06h0M159.71 984.64h0M161.62 998.06h0M163.54 984.17h0M164.5 996.62h0M166.41 994.71h0M168.81 994.71h0M170.25 1001.89h0M172.16 1004.29h0M174.08 1004.29h0M174.56 991.83h0M176.96 1005.25h0M179.35 1003.33h0M182.23 1006.21h0M184.62 992.31h0M187.5 1003.81h0M189.41 1003.81h0M191.33 998.06h0M193.73 1001.41h0M196.12 1004.29h0M198.04 1010.04h0M200.43 1010.04h0M202.83 998.54h0M205.23 1016.27h0M207.62 1008.6h0M210.02 1011.96h0M212.41 1000.94h0M214.81 999.02h0M217.2 1017.71h0M220.08 1003.81h0M222.47 1011h0M224.87 1012.44h0M227.27 1006.69h0M230.14 1005.25h0M233.02 1006.21h0M235.89 1002.37h0M238.29 1013.39h0M241.16 1001.41h0M244.04 1009.56h0M246.43 1017.23h0M249.79 1009.56h0M252.66 1010.04h0M255.54 1010.04h0M258.41 1008.12h0M261.29 1006.21h0M264.16 1005.25h0M267.51 1005.25h0M270.39 1018.66h0M273.26 1006.69h0M276.14 1001.89h0M279.49 1008.6h0M282.85 1002.85h0M285.72 999.98h0M289.08 1007.16h0M292.43 1007.64h0M295.3 1014.83h0M298.66 1009.56h0M302.27 1003.81h0M305.52 1008.12h0M308.97 1012.15h0M312.52 1001.61h0M315.87 997.1h0M319.52 999.02h0M322.77 1007.64h0M326.22 1016.27h0M329.77 1007.64h0M333.6 1005.25h0M336.96 1016.75h0M340.79 997.58h0M344.33 1003.81h0M347.98 1003.04h0M351.81 1017.03h0M355.64 999.02h0M359.48 983.02h0M363.02 1001.89h0M367.14 1001.22h0M370.98 992.79h0M374.81 987.04h0M378.93 988.19h0M382.76 978.42h0M386.6 994.9h0M390.62 997.58h0M394.74 977.46h0M398.77 986.08h0M403.08 971.71h0M407.1 986.85h0" stroke="#000" stroke-width="4.5" stroke-linecap="round" fill="none"/>
<rect x="106.0" y="970.2" width="370" height="61.7" fill="none" stroke="#000" stroke-width="2.1"/>
<line x1="106" y1="1031.9" x2="106" y2="1035.9" stroke="#000" stroke-width="2.1"/>
<line x1="106" y1="970.2" x2="106" y2="967.8" stroke="#000" stroke-width="2.1"/>
<line x1="152.25" y1="1031.9" x2="152.25" y2="1034.1" stroke="#000" stroke-width="2.1"/>
<line x1="152.25" y1="970.2" x2="152.25" y2="968.88" stroke="#000" stroke-width="2.1"/>
<line x1="198.5" y1="1031.9" x2="198.5" y2="1035.9" stroke="#000" stroke-width="2.1"/>
<line x1="198.5" y1="970.2" x2="198.5" y2="967.8" stroke="#000" stroke-width="2.1"/>
<line x1="244.75" y1="1031.9" x2="244.75" y2="1034.1" stroke="#000" stroke-width="2.1"/>
<line x1="244.75" y1="970.2" x2="244.75" y2="968.88" stroke="#000" stroke-width="2.1"/>
<line x1="291" y1="1031.9" x2="291" y2="1035.9" stroke="#000" stroke-width="2.1"/>
<line x1="291" y1="970.2" x2="291" y2="967.8" stroke="#000" stroke-width="2.1"/>
<line x1="337.25" y1="1031.9" x2="337.25" y2="1034.1" stroke="#000" stroke-width="2.1"/>
<line x1="337.25" y1="970.2" x2="337.25" y2="968.88" stroke="#000" stroke-width="2.1"/>
<line x1="383.5" y1="1031.9" x2="383.5" y2="1035.9" stroke="#000" stroke-width="2.1"/>
<line x1="383.5" y1="970.2" x2="383.5" y2="967.8" stroke="#000" stroke-width="2.1"/>
<line x1="429.75" y1="1031.9" x2="429.75" y2="1034.1" stroke="#000" stroke-width="2.1"/>
<line x1="429.75" y1="970.2" x2="429.75" y2="968.88" stroke="#000" stroke-width="2.1"/>
<line x1="476" y1="1031.9" x2="476" y2="1035.9" stroke="#000" stroke-width="2.1"/>
<line x1="476" y1="970.2" x2="476" y2="967.8" stroke="#000" stroke-width="2.1"/>
<line x1="106" y1="970.2" x2="102.5" y2="970.2" stroke="#000" stroke-width="2.1"/>
<line x1="476" y1="970.2" x2="479.5" y2="970.2" stroke="#000" stroke-width="2.1"/>
<line x1="106" y1="985.62" x2="104.2" y2="985.62" stroke="#000" stroke-width="2.1"/>
<line x1="476" y1="985.62" x2="477.8" y2="985.62" stroke="#000" stroke-width="2.1"/>
<line x1="106" y1="1001.05" x2="102.5" y2="1001.05" stroke="#000" stroke-width="2.1"/>
<line x1="476" y1="1001.05" x2="479.5" y2="1001.05" stroke="#000" stroke-width="2.1"/>
<line x1="106" y1="1016.48" x2="104.2" y2="1016.48" stroke="#000" stroke-width="2.1"/>
<line x1="476" y1="1016.48" x2="477.8" y2="1016.48" stroke="#000" stroke-width="2.1"/>
<line x1="106" y1="1031.9" x2="102.5" y2="1031.9" stroke="#000" stroke-width="2.1"/>
<line x1="476" y1="1031.9" x2="479.5" y2="1031.9" stroke="#000" stroke-width="2.1"/>
<text x="101.3" y="980.4" font-size="25.5" text-anchor="end" >3</text>
<text x="101.3" y="1008.3" font-size="25.5" text-anchor="end" >0</text>
<text x="101.3" y="1036.2" font-size="25.5" text-anchor="end" >-3</text>
<text x="105.4" y="1057.1" font-size="26" text-anchor="middle" >0.00</text>
<text x="197.9" y="1057.1" font-size="26" text-anchor="middle" >0.05</text>
<text x="290.4" y="1057.1" font-size="26" text-anchor="middle" >0.10</text>
<text x="382.9" y="1057.1" font-size="26" text-anchor="middle" >0.15</text>
<text x="475.4" y="1057.1" font-size="26" text-anchor="middle" >0.20</text>
<text transform="translate(71.4,1001.5) rotate(-90)" font-size="24.5" text-anchor="middle">ΔI/σ</text>
<text y="1094" font-size="25.5"><tspan x="250">s</tspan><tspan x="264" dy="-9.5" font-size="16">2</tspan><tspan x="273.3" dy="9.5">(nm</tspan><tspan x="316.4" dy="-9.5" font-size="16">-2</tspan><tspan x="329.5" dy="9.5">)</tspan></text>
<path d="M636.96 1017.8h0M637.19 1017.4h0M637.43 1016.98h0M637.66 1016.61h0M637.9 1016.17h0M638.13 1015.73h0M638.37 1015.25h0M638.6 1014.75h0M638.84 1014.23h0M639.07 1013.79h0M639.31 1013.16h0M639.54 1012.72h0M639.78 1012.1h0M640.01 1011.47h0M640.25 1010.9h0M640.48 1010.38h0M640.72 1009.74h0M640.95 1009.08h0M641.19 1008.4h0M641.42 1007.64h0M641.66 1007.14h0M641.89 1006.3h0M642.13 1005.58h0M642.36 1004.85h0M642.6 1004.11h0M642.83 1003.26h0M643.07 1002.58h0M643.3 1001.76h0M643.54 1001h0M643.77 1000.06h0M644.01 999.63h0M644.24 998.45h0M644.48 997.77h0M644.71 996.92h0M644.95 996.13h0M645.18 995.37h0M645.42 994.29h0M645.65 993.43h0M645.89 992.36h0M646.12 991.7h0M646.36 990.36h0M646.59 989.57h0M646.83 988.69h0M647.06 987.79h0M647.3 986.83h0M647.53 985.9h0M647.77 984.81h0M648 983.71h0M648.24 982.73h0M648.47 981.91h0M648.71 980.68h0M648.94 979.75h0M649.18 978.51h0M649.41 977.14h0M649.65 976.3h0M649.88 975.4h0M650.12 974.57h0M650.35 973.44h0M650.59 972.4h0M650.82 970.8h0M651.06 970h0M651.29 968.71h0M651.53 967.72h0M651.76 966.44h0M652 965.01h0M652.23 964.32h0M652.47 963.1h0M652.7 962.05h0M652.94 960.49h0M653.17 959.77h0M653.41 958.63h0M653.64 957.52h0M653.88 956.35h0M654.11 954.69h0M654.35 952.96h0M654.58 952.69h0M654.82 950.98h0M655.05 949.97h0M655.29 949.13h0M655.52 947.71h0M655.76 946.49h0M655.99 945.42h0M656.23 943.47h0M656.46 943.36h0M656.7 941.5h0M656.93 940.3h0M657.17 939.37h0M657.4 937.94h0M657.64 936.52h0M657.87 935.54h0M658.11 934.25h0M658.34 932.96h0M658.58 932.63h0M658.81 930.32h0M659.05 928.86h0M659.28 928.09h0M659.52 926.89h0M659.75 926.51h0M659.99 924.91h0M660.22 923.97h0M660.46 922.73h0M660.69 921.03h0M660.93 920.49h0M661.16 919.1h0M661.4 918.59h0M661.63 916.83h0M661.87 915.61h0M662.1 914.77h0M662.34 913.66h0M662.57 911.58h0M662.81 911.64h0M663.04 910.49h0M663.28 909.32h0M663.51 907.47h0M663.75 906.04h0M663.98 905.67h0M664.22 905.04h0M664.45 903.89h0M664.69 902.26h0M664.92 902.05h0M665.16 900.08h0M665.39 899.09h0M665.63 898.67h0M665.86 897.46h0M666.1 896.45h0M666.33 895.16h0M666.57 895.34h0M666.8 893.45h0M667.04 893.21h0M667.27 892.48h0M667.51 891.2h0M667.74 890.46h0M667.98 889.94h0M668.21 889.36h0M668.45 888.21h0M668.68 886.27h0M668.92 885.2h0M669.15 884.98h0M669.39 883.92h0M669.62 883.92h0M669.86 882.92h0M670.09 881.97h0M670.33 881.85h0M670.56 881.05h0M670.8 879.77h0M671.03 879.23h0M671.27 878.89h0M671.5 877.4h0M671.74 877.04h0M671.97 875.59h0M672.2 875.49h0M672.44 874.98h0M672.67 874.03h0M672.91 873.55h0M673.14 873.22h0M673.38 872.39h0M673.61 870.92h0M673.85 870.34h0M674.08 869.2h0M674.32 870.89h0M674.55 869.26h0M674.79 868.67h0M675.02 867.58h0M675.26 867.52h0M675.49 867h0M675.73 865.26h0M675.96 865.23h0M676.2 865.93h0M676.43 862.98h0M676.67 862.73h0M676.9 863.74h0M677.14 861.78h0M677.37 862.86h0M677.61 860.37h0M677.84 861.29h0M678.08 861.42h0M678.31 860.45h0M678.55 860.41h0M678.78 858.81h0M679.02 858.33h0M679.25 858.01h0M679.49 858.26h0M679.72 861.68h0M679.96 856.52h0M680.19 858.62h0M680.43 855.4h0M680.66 853.77h0M680.9 854.46h0M681.13 854.92h0M681.37 854.2h0M681.6 853.71h0M681.84 853.88h0M682.07 853.52h0M682.31 853.62h0M682.54 850.07h0M682.78 851.47h0M683.01 849.56h0M683.25 851.05h0M683.48 850.14h0M683.72 850.16h0M683.95 848.72h0M684.19 847.71h0M684.42 848.34h0M684.66 849.58h0M684.89 849.43h0M685.13 844.64h0M685.36 847.84h0M685.6 847.53h0M685.83 843.82h0M686.07 844.18h0M686.3 844.91h0M686.54 846.44h0M686.77 840.51h0M687.01 844.18h0M687.24 843.54h0M687.48 844.74h0M687.71 847.13h0M687.95 846.7h0M688.18 842.57h0M688.42 842.3h0M688.65 843.45h0M688.89 845.33h0M689.12 845.72h0M689.36 842.84h0M689.59 845.29h0M689.83 839.34h0M690.06 838.43h0M690.3 833.95h0M690.53 838.54h0M690.77 842.03h0M691 842.52h0M691.24 849.06h0M691.47 841.36h0M691.71 840.03h0M691.94 836.71h0M692.18 837.43h0M692.41 837.26h0M692.65 838.07h0M692.88 836.59h0M693.12 834.11h0M693.35 841.12h0M693.59 839.18h0M693.82 841.74h0M694.06 832.64h0M694.29 833.38h0M694.53 834.81h0M694.76 840.54h0M695 836.19h0M695.23 837.27h0M695.47 836.13h0M695.7 836.8h0M695.94 834.42h0M696.17 837.13h0M696.41 833.02h0M696.64 834.81h0M696.88 836.37h0M697.11 835.64h0M697.35 836.57h0M697.58 832.33h0M697.82 835.76h0M698.05 833.75h0M698.29 835.91h0M698.52 839.46h0M698.76 831.29h0M698.99 837.83h0M699.23 831.8h0M699.46 832.56h0M699.7 839.62h0M699.93 837.07h0M700.17 835.48h0M700.4 836.47h0M700.64 837.67h0M700.87 830.76h0M701.11 834.16h0M701.34 831.82h0M701.58 834.68h0M701.81 831.93h0M702.05 835.71h0M702.28 832.98h0M702.52 830.66h0M702.75 832.57h0M702.99 834.38h0M703.22 836.69h0M703.46 831.91h0M703.69 831.17h0M703.93 833.41h0M704.16 835.32h0M704.4 830.22h0M704.63 822.63h0M704.87 833.4h0M705.1 830.85h0M705.34 830.64h0M705.57 842.26h0M705.81 831.56h0M706.04 834.84h0M706.28 826.41h0M706.51 832.98h0M706.75 835.08h0M706.98 832.79h0M707.22 831.19h0M707.45 834.16h0M707.69 832.05h0M707.92 837.46h0M708.16 832.75h0M708.39 828.53h0M708.63 823.46h0M708.86 828.78h0M709.1 830.61h0M709.33 826.69h0M709.57 827.38h0M709.8 824.57h0M710.04 827.07h0M710.27 832.29h0M710.51 830.65h0M710.74 831.01h0M710.98 830.47h0M711.21 830.93h0M711.45 835.34h0M711.68 841.3h0M711.92 834.91h0M712.15 841.08h0M712.38 831.62h0M712.62 831.94h0M712.85 839.67h0M713.09 828.85h0M713.32 828.04h0M713.56 831.64h0M713.79 824.34h0M714.03 823.39h0M714.26 837.89h0M714.5 827.35h0M714.73 830.2h0M714.97 830.35h0M715.2 827.92h0M715.44 835.91h0M715.67 835.37h0M715.91 836.57h0M716.14 836.3h0M716.38 833.16h0M716.61 839.87h0M716.85 837.96h0M717.08 830.01h0M717.32 833.29h0M717.55 831.1h0M717.79 842.56h0M718.02 837.11h0M718.26 836.04h0M718.49 833.15h0M718.73 836.38h0M718.96 828.69h0M719.2 833.86h0M719.43 833.56h0M719.67 833.66h0M719.9 830.14h0M720.14 836.38h0M720.37 828.12h0M720.61 831.68h0M720.84 833.38h0M721.08 834.08h0M721.31 831.62h0M721.55 829.07h0M721.78 829.52h0M722.02 832.68h0M722.25 830.07h0M722.49 834.29h0M722.72 828.21h0M722.96 835.3h0M723.19 846.69h0M723.43 828h0M723.66 834.91h0M723.9 842.14h0M724.13 836.86h0M724.37 840.83h0M724.6 824.19h0M724.84 833.32h0M725.07 845.15h0M725.31 833.28h0M725.54 838.8h0M725.78 825.67h0M726.01 842.85h0M726.25 849.91h0M726.48 836.69h0M726.72 839.24h0M726.95 839.79h0M727.19 850.04h0M727.42 835.14h0M727.66 827.92h0M727.89 849.25h0M728.13 831.14h0M728.36 841.64h0M728.6 824.35h0M728.83 835.94h0M729.07 839.85h0M729.3 832.19h0M729.54 835.85h0M729.77 842.81h0M730.01 835.03h0M730.24 842.66h0M730.48 850.7h0M730.71 827.33h0M730.95 842.21h0M731.18 844h0M731.42 838.27h0M731.65 850.32h0M731.89 849.24h0M732.12 844.06h0M732.36 844.38h0M732.59 840.82h0M732.83 834.32h0M733.06 844.67h0M733.3 838.67h0M733.53 838.15h0M733.77 849.19h0M734 840.92h0M734.24 848.7h0M734.47 835.85h0M734.71 840h0M734.94 843.06h0M735.18 852.17h0M735.41 842.8h0M735.65 848.84h0M735.88 839.28h0M736.12 844.96h0M736.35 849.8h0M736.59 838.38h0M736.82 839.94h0M737.06 848.99h0M737.29 837.34h0M737.53 847.44h0M737.76 847.73h0M738 844.99h0M738.23 851.21h0M738.47 849.3h0M738.7 847.59h0M738.94 836.13h0M739.17 836.53h0M739.41 848.95h0M739.64 836.14h0M739.88 847.9h0M740.11 845.15h0M740.35 841.83h0M740.58 846.21h0M740.82 831.41h0M741.05 847h0M741.29 857.49h0M741.52 839.87h0M741.76 852.38h0M741.99 851.85h0M742.23 871.45h0M742.46 842.91h0M742.7 844.45h0M742.93 844.81h0M743.17 843.73h0M743.4 838.74h0M743.64 851.68h0M743.87 844.69h0M744.11 857.32h0M744.34 854.7h0M744.58 844.49h0M744.81 849.67h0M745.05 862.77h0M745.28 850.38h0M745.52 854.7h0M745.75 859.74h0M745.99 850.56h0M746.22 857.15h0M746.46 866.26h0M746.69 863.06h0M746.93 841.37h0M747.16 866.71h0M747.4 853.68h0M747.63 850.96h0M747.87 850.98h0M748.1 865.65h0M748.34 858.93h0M748.57 855.61h0M748.81 850.73h0M749.04 862.28h0M749.28 866.62h0M749.51 849.9h0M749.75 849.34h0M749.98 855.39h0M750.22 863.41h0M750.45 855.63h0M750.69 858.27h0M750.92 852.73h0M751.16 869.69h0M751.39 859.03h0M751.63 861.53h0M751.86 869.49h0M752.1 859.05h0M752.33 860.8h0M752.57 864.72h0M752.8 858.4h0M753.03 873.6h0M753.27 862.66h0M753.5 858.93h0M753.74 860.42h0M753.97 854.1h0M754.21 873.41h0M754.44 876.31h0M754.68 861.92h0M754.91 860.38h0M755.15 846.54h0M755.38 859.56h0M755.62 872.56h0M755.85 858.49h0M756.09 872.95h0M756.32 878.79h0M756.56 843.7h0M756.79 863.74h0M757.03 860.64h0M757.26 862.24h0M757.5 851.58h0M757.73 865.26h0M757.97 857.32h0M758.2 877.45h0M758.44 881.02h0M758.67 856.26h0M758.91 856.09h0M759.14 864.99h0M759.38 867.84h0M759.61 868.68h0M759.85 876.71h0M760.08 856.82h0M760.32 865.09h0M760.55 866.78h0M760.79 868.26h0M761.02 862.38h0M761.26 867.67h0M761.49 865.74h0M761.73 883.79h0M761.96 868.51h0M762.2 853.15h0M762.43 878.73h0M762.67 875.4h0M762.9 866.1h0M763.14 865.77h0M763.37 869.21h0M763.61 890.81h0M763.84 870.97h0M764.08 887.39h0M764.31 884.29h0M764.55 871.43h0M764.78 879.87h0M765.02 869.5h0M765.25 847.11h0M765.49 870.41h0M765.72 871.23h0M765.96 887.37h0M766.19 885.24h0M766.43 889.72h0M766.66 884.82h0M766.9 890.7h0M767.13 886.76h0M767.37 882.61h0M767.6 890.84h0M767.84 895.38h0M768.07 895.16h0M768.31 877.24h0M768.54 881.53h0M768.78 872.07h0M769.01 872.17h0M769.25 886.57h0M769.48 876.58h0M769.72 898.5h0M769.95 860.62h0M770.19 872.08h0M770.42 886.93h0M770.66 897.08h0M770.89 881.41h0M771.13 905.15h0M771.36 894.14h0M771.6 878.48h0M771.83 885.85h0M772.07 892.13h0M772.3 877.25h0M772.54 898.6h0M772.77 884.91h0M773.01 893.54h0M773.24 897.61h0M773.48 883.93h0M773.71 899.85h0M773.95 869.07h0M774.18 896.15h0M774.42 868.65h0M774.65 902.33h0M774.89 884.21h0M775.12 904.18h0M775.36 906.08h0M775.59 889.99h0M775.83 884.62h0M776.06 906.4h0M776.3 879.61h0M776.53 901.82h0M776.77 891.85h0M777 889.4h0M777.24 887.3h0M777.47 914.34h0M777.71 876.41h0M777.94 888.54h0M778.18 899.96h0M778.41 907.04h0M778.65 914.95h0M778.88 911.53h0M779.12 890.18h0M779.35 900.58h0M779.59 909.93h0M779.82 903.33h0M780.06 879.61h0M780.29 901.7h0M780.53 904.93h0M780.76 882.85h0M781 893.42h0M781.23 898.55h0M781.47 906.45h0M781.7 917.8h0M781.94 913.66h0M782.17 905.88h0M782.41 903.11h0M782.64 896.6h0M782.88 894.57h0M783.11 898.73h0M783.35 899.04h0M783.58 913.95h0M783.82 927.96h0M784.05 908.74h0M784.29 914.23h0M784.52 910.9h0M784.76 906.64h0M784.99 918.63h0M785.23 917.32h0M785.46 905.36h0M785.7 903h0M785.93 912.68h0M786.17 898.84h0M786.4 907.89h0M786.64 917.99h0M786.87 905.22h0M787.11 882.74h0M787.34 914.58h0M787.58 892.02h0M787.81 889.61h0M788.05 888.32h0M788.28 917.51h0M788.52 882.26h0M788.75 906.27h0M788.99 911.16h0M789.22 911.11h0M789.46 900.85h0M789.69 908.03h0M789.93 911.16h0M790.16 892.83h0M790.4 918.59h0M790.63 922.93h0M790.87 899.68h0M791.1 901.03h0M791.34 896.21h0M791.57 924.31h0M791.81 896.75h0M792.04 904.69h0M792.28 888.28h0M792.51 927.57h0M792.75 908.71h0M792.98 915.39h0M793.22 932.76h0M793.45 921.54h0M793.68 897.55h0M793.92 918.73h0M794.15 922.29h0M794.39 901.46h0M794.62 900.02h0M794.86 900.21h0M795.09 924.01h0M795.33 914.45h0M795.56 900.08h0M795.8 922.82h0M796.03 924.26h0M796.27 903.23h0M796.5 893.48h0M796.74 930.27h0M796.97 950.03h0M797.21 934.7h0M797.44 928.94h0M797.68 917.21h0M797.91 907.08h0M798.15 917.63h0M798.38 925.36h0M798.62 913.81h0M798.85 929.27h0M799.09 916.84h0M799.32 925.18h0M799.56 879.42h0M799.79 905.28h0M800.03 928.3h0M800.26 930.69h0M800.5 923.06h0M800.73 940.02h0M800.97 927.4h0M801.2 927.64h0M801.44 905.03h0M801.67 923.52h0M801.91 928.76h0M802.14 936.63h0M802.38 934.45h0M802.61 918.88h0M802.85 921.08h0M803.08 902.03h0M803.32 927.17h0M803.55 903.22h0M803.79 914.73h0M804.02 918.55h0M804.26 947.33h0M804.49 937.15h0M804.73 908.06h0M804.96 898.67h0M805.2 915.89h0M805.43 907.92h0M805.67 924.91h0M805.9 924.45h0M806.14 928.76h0M806.37 905.01h0M806.61 914.26h0M806.84 922.73h0M807.08 924.17h0M807.31 911.26h0M807.55 914.72h0M807.78 931.75h0M808.02 894.29h0M808.25 915.81h0M808.49 919.49h0M808.72 897.82h0M808.96 904.54h0M809.19 921.06h0M809.43 911.81h0M809.66 935.76h0M809.9 929.41h0M810.13 953.67h0M810.37 901.62h0M810.6 948.4h0M810.84 909.7h0M811.07 932.47h0M811.31 934.74h0M811.54 922.94h0M811.78 915.97h0M812.01 910.74h0M812.25 893.13h0M812.48 914.58h0M812.72 906.61h0M812.95 929.17h0M813.19 909.13h0M813.42 917.69h0M813.66 927.13h0M813.89 921.5h0M814.13 920.98h0M814.36 917.07h0M814.6 913.81h0M814.83 927.86h0M815.07 931.45h0M815.3 908.37h0M815.54 946.3h0M815.77 929.54h0M816.01 895.71h0M816.24 962.14h0M816.48 930.69h0M816.71 909.06h0M816.95 945.69h0M817.18 878.95h0M817.42 960.47h0M817.65 897.07h0M817.89 895.09h0M818.12 905.15h0M818.36 923.11h0M818.59 913.89h0M818.83 933.77h0M819.06 906.6h0M819.3 937.28h0M819.53 923.76h0M819.77 903.41h0M820 937.14h0M820.24 925.08h0M820.47 916.55h0M820.71 940.72h0M820.94 900.32h0M821.18 913.52h0M821.41 943.47h0M821.65 919.67h0M821.88 931.42h0M822.12 929.46h0M822.35 917.47h0M822.59 930.22h0M822.82 902.85h0M823.06 930.04h0M823.29 902.38h0M823.53 919.1h0M823.76 904.26h0M824 927.14h0M824.23 926.48h0M824.47 937.09h0M824.7 908.46h0M824.94 902.41h0M825.17 882.74h0M825.41 896.35h0M825.64 913.54h0M825.88 921.12h0M826.11 911.04h0M826.35 917.9h0M826.58 892.88h0M826.82 901.45h0M827.05 931.2h0M827.29 928.63h0M827.52 893.99h0M827.76 911.7h0M827.99 920.71h0M828.23 896.66h0M828.46 923.17h0M828.7 921.25h0M828.93 924.24h0M829.17 949.66h0M829.4 901.5h0M829.64 936.73h0M829.87 925.72h0M830.11 928.63h0M830.34 903.35h0M830.58 916.87h0M830.81 915.32h0M831.05 944.37h0M831.28 916.88h0M831.52 940.73h0M831.75 909.84h0M831.99 908.68h0M832.22 915.23h0M832.46 879.14h0M832.69 905.46h0M832.93 904.11h0M833.16 911.96h0M833.4 917.77h0M833.63 897.09h0M833.87 894.5h0M834.1 937.25h0M834.33 894.97h0M834.57 904.51h0M834.8 896.29h0M835.04 905.07h0M835.27 935.99h0M835.51 934.64h0M835.74 879.77h0M835.98 908.38h0M836.21 938.96h0M836.45 906.33h0M836.68 919.33h0M836.92 946.74h0M837.15 955.05h0M837.39 942.2h0M837.62 907h0M837.86 912.87h0M838.09 916.53h0M838.33 906.3h0M838.56 900.14h0M838.8 951.48h0M839.03 917.04h0M839.27 927.02h0M839.5 934.72h0M839.74 921.42h0M839.97 913.1h0M840.21 915.75h0M840.44 938.76h0M840.68 919.73h0M840.91 870.69h0M841.15 930.72h0M841.38 943.1h0M841.62 904.28h0M841.85 897.75h0M842.09 900.2h0M842.32 931.6h0M842.56 889.18h0M842.79 924.73h0M843.03 931.65h0M843.26 921.57h0M843.5 910.84h0M843.73 893.89h0M843.97 895.53h0M844.2 908.55h0M844.44 888.83h0M844.67 906.09h0M844.91 889.17h0M845.14 937.88h0M845.38 941.51h0M845.61 891.03h0M845.85 937.36h0M846.08 913.43h0M846.32 908.82h0M846.55 917.26h0M846.79 916.37h0M847.02 876.78h0M847.26 962.25h0M847.49 887.09h0M847.73 856.83h0M847.96 905.03h0M848.2 905.79h0M848.43 889.61h0M848.67 865.67h0M848.9 931.8h0M849.14 902.81h0M849.37 908.78h0M849.61 892.2h0M849.84 900.73h0M850.08 889.6h0M850.31 913.58h0M850.55 902.62h0M850.78 919.05h0M851.02 918.78h0M851.25 906.48h0M851.49 906.33h0M851.72 930.29h0M851.96 867.58h0M852.19 905.68h0M852.43 934.97h0M852.66 877.34h0M852.9 919.72h0M853.13 890.3h0M853.37 902.04h0M853.6 895.75h0M853.84 897.38h0M854.07 914.92h0M854.31 899.99h0M854.54 853.99h0M854.78 954.74h0M855.01 898.87h0M855.25 890.14h0M855.48 925.71h0M855.72 933.37h0M855.95 849.27h0M856.19 908.63h0M856.42 850.53h0M856.66 886.53h0M856.89 897.16h0M857.13 887.52h0M857.36 883.54h0M857.6 870.38h0M857.83 887.85h0M858.07 894.6h0M858.3 893.65h0M858.54 865.24h0M858.77 877.85h0M859.01 922.69h0M859.24 913.27h0M859.48 888.93h0M859.71 912.65h0M859.95 906.21h0M860.18 920.9h0M860.42 902.93h0M860.65 885.63h0M860.89 871.37h0M861.12 895.42h0M861.36 844.2h0M861.59 897.26h0M861.83 815.82h0M862.06 869.98h0M862.3 882.33h0M862.53 907.63h0M862.77 968.66h0M863 898.25h0M863.24 889.48h0M863.47 845.26h0M863.71 930.23h0M863.94 845.08h0M864.18 899.92h0M864.41 874.58h0M864.65 960.92h0M864.88 889.09h0M865.12 901.71h0M865.35 874.72h0M865.59 889.72h0M865.82 922.86h0M866.06 867.18h0M866.29 873.48h0M866.53 875.79h0M866.76 864.8h0M867 862.14h0M867.23 891.34h0M867.47 928.04h0M867.7 928.7h0M867.94 854.49h0M868.17 871.15h0M868.41 887.08h0M868.64 901.76h0M868.88 888.56h0M869.11 888.55h0M869.35 898.52h0M869.58 908.59h0M869.82 830.23h0M870.05 882.26h0M870.29 905.51h0M870.52 925.25h0M870.76 908.65h0M870.99 868.01h0M871.23 866.71h0M871.46 893.6h0M871.7 885.68h0M871.93 895.76h0M872.17 918.93h0M872.4 850.41h0M872.64 875.98h0M872.87 817.08h0M873.11 908.16h0M873.34 889.82h0M873.58 860.77h0M873.81 892.64h0M874.05 926.34h0M874.28 913.21h0M874.51 881.96h0M874.75 874.86h0M874.98 887.27h0M875.22 855.56h0M875.45 855.6h0M875.69 874.59h0M875.92 882.9h0M876.16 891.15h0M876.39 867.35h0M876.63 856.43h0M876.86 881.15h0M877.1 869.61h0M877.33 892.48h0M877.57 925.74h0M877.8 913h0M878.04 859.44h0M878.27 868.59h0M878.51 834.58h0M878.74 879.74h0M878.98 855.53h0M879.21 841.64h0M879.45 851.16h0M879.68 899.75h0M879.92 886.27h0M880.15 876.37h0M880.39 911.26h0M880.62 865.58h0M880.86 848.73h0M881.09 894.83h0M881.33 819.38h0M881.56 888.45h0M881.8 885.47h0M882.03 886.43h0M882.27 901.4h0M882.5 865.56h0M882.74 877.6h0M882.97 826.73h0M883.21 859.05h0M883.44 860.98h0M883.68 884.7h0M883.91 923.55h0M884.15 880.04h0M884.38 904.86h0M884.62 846.88h0M884.85 877.55h0M885.09 823.88h0M885.32 852.96h0M885.56 849.55h0M885.79 868.49h0M886.03 868.99h0M886.26 854.63h0M886.5 845.8h0M886.73 898.94h0M886.97 859.1h0M887.2 790.49h0M887.44 877.55h0M887.67 882.99h0M887.91 897.66h0M888.14 923.25h0M888.38 835.17h0M888.61 871.62h0M888.85 863.64h0M889.08 812.94h0M889.32 790.87h0M889.55 903.49h0M889.79 838h0M890.02 851.94h0M890.26 859.12h0M890.49 856.25h0M890.73 872.7h0M890.96 818.88h0M891.2 851.05h0M891.43 859.82h0M891.67 829.44h0M891.9 840.91h0M892.14 855.32h0M892.37 859.59h0M892.61 811.19h0M892.84 853h0M893.08 873.23h0M893.31 900.39h0M893.55 881.95h0M893.78 907.04h0M894.02 865.64h0M894.25 860.34h0M894.49 942.76h0M894.72 868.14h0M894.96 846.24h0M895.19 862.66h0M895.43 902.86h0M895.66 824.11h0M895.9 893.23h0M896.13 912.52h0M896.37 907.03h0M896.6 867.85h0M896.84 832.77h0M897.07 826.12h0M897.31 859.43h0M897.54 910.7h0M897.78 890.74h0M898.01 899.55h0M898.25 872.71h0M898.48 931.96h0M898.72 861.78h0M898.95 842.59h0M899.19 870.96h0M899.42 848.76h0M899.66 900.31h0M899.89 919.65h0M900.13 888.71h0M900.36 822.82h0M900.6 827.15h0M900.83 881.48h0M901.07 820.35h0M901.3 876.16h0M901.54 808.62h0M901.77 845.84h0M902.01 880.56h0M902.24 833.98h0M902.48 892.69h0M902.71 898.77h0M902.95 918.56h0M903.18 852.84h0M903.42 864.25h0M903.65 865h0M903.89 877.77h0M904.12 808.26h0M904.36 878.01h0M904.59 889.59h0M904.83 814.58h0M905.06 807.76h0M905.3 848.05h0M905.53 929.16h0M905.77 884.07h0M906 837.11h0M906.24 859.36h0M906.47 801.07h0M906.71 914.05h0M906.94 833.74h0M907.18 884.34h0M907.41 808.72h0M907.65 861.96h0M907.88 819.36h0M908.12 884.63h0M908.35 915.2h0M908.59 903.05h0M908.82 882.58h0M909.06 899.38h0M909.29 811.28h0M909.53 805.66h0M909.76 846.73h0M910 899.35h0M910.23 861.8h0M910.47 884.88h0M910.7 799.79h0M910.94 844.06h0M911.17 837.05h0M911.41 872.55h0M911.64 938.98h0M911.88 887.62h0M912.11 901.82h0M912.35 840.7h0M912.58 851.34h0M912.82 888.34h0M913.05 870.99h0M913.29 792.37h0M913.52 894.52h0M913.76 892.65h0M913.99 863.64h0M914.23 883.21h0M914.46 871.72h0M914.7 832.25h0M914.93 783.91h0M915.16 928.17h0M915.4 853.76h0M915.63 851.14h0M915.87 856.18h0M916.1 860.37h0M916.34 866.7h0M916.57 811.47h0M916.81 871.68h0M917.04 857.14h0M917.28 851.54h0M917.51 846.99h0M917.75 858.48h0M917.98 810.28h0M918.22 851.18h0M918.45 843.52h0M918.69 852.66h0M918.92 893.39h0M919.16 885.81h0M919.39 895.16h0M919.63 841.8h0M919.86 880.36h0M920.1 895.27h0M920.33 839.35h0M920.57 827.3h0M920.8 925.26h0M921.04 778.66h0M921.27 847.1h0M921.51 852.84h0M921.74 803.74h0M921.98 844.98h0M922.21 874.11h0M922.45 755.99h0M922.68 894.44h0M922.92 851.44h0M923.15 811.51h0M923.39 893.85h0M923.62 851.09h0M923.86 830.18h0M924.09 745.22h0M924.33 885.52h0M924.56 847.97h0M924.8 817.87h0M925.03 842.07h0M925.27 898.75h0M925.5 827.83h0M925.74 840.38h0M925.97 825.83h0M926.21 796.46h0M926.44 801.26h0M926.68 826.82h0M926.91 830.76h0M927.15 893.09h0M927.38 849.67h0M927.62 834.02h0M927.85 861.32h0M928.09 838.89h0M928.32 880.13h0M928.56 776.7h0M928.79 749.83h0M929.03 859.97h0M929.26 824.86h0M929.5 852.58h0M929.73 787.13h0M929.97 822.74h0M930.2 838.04h0M930.44 851.41h0M930.67 835.54h0M930.91 886.55h0M931.14 811.21h0M931.38 873.16h0M931.61 816.91h0M931.85 834.41h0M932.08 791.96h0M932.32 840.48h0M932.55 794.62h0M932.79 881.86h0M933.02 812.33h0M933.26 849.3h0M933.49 830.19h0M933.73 835.4h0M933.96 797.01h0M934.2 931.98h0M934.43 823.69h0M934.67 907.37h0M934.9 784.05h0M935.14 929.45h0M935.37 884.11h0M935.61 915.31h0M935.84 763.76h0M936.08 897.06h0M936.31 831.37h0M936.55 861.44h0M936.78 920.71h0M937.02 851.76h0M937.25 805.94h0M937.49 844.19h0M937.72 792.97h0M937.96 852.23h0M938.19 834.61h0M938.43 852.96h0M938.66 819.01h0M938.9 748.43h0M939.13 817.74h0M939.37 825.13h0M939.6 863.23h0M939.84 869.61h0M940.07 766.76h0M940.31 886.36h0M940.54 876.69h0M940.78 837.45h0M941.01 853.04h0M941.25 742.9h0M941.48 945.97h0M941.72 815.43h0M941.95 799.09h0M942.19 885.66h0M942.42 862.54h0M942.66 811.29h0M942.89 755.89h0M943.13 875.42h0M943.36 907.22h0M943.6 785.44h0M943.83 759.67h0M944.07 846.32h0M944.3 937.68h0M944.54 762.18h0M944.77 839.12h0M945.01 776.9h0M945.24 831.15h0M945.48 847.22h0M945.71 850.78h0M945.95 759.53h0M946.18 761.08h0M946.42 933.2h0M946.65 873.93h0M946.89 744.17h0M947.12 845.54h0M947.36 894.44h0M947.59 826.8h0M947.83 832.18h0M948.06 831.43h0M948.3 850.2h0M948.53 841.6h0M948.77 848.67h0M949 809.96h0M949.24 866.09h0M949.47 839.84h0M949.71 832.38h0M949.94 762.81h0M950.18 806.98h0M950.41 830.06h0M950.65 798.75h0M950.88 804.74h0M951.12 771.88h0M951.35 799.48h0M951.59 737.49h0M951.82 758.77h0M952.06 825.2h0M952.29 843.87h0M952.53 780.21h0M952.76 797.6h0M953 827.1h0M953.23 897.03h0M953.47 914.95h0M953.7 804.82h0M953.94 784.11h0M954.17 782.28h0M954.41 886.7h0M954.64 770.41h0M954.88 847.94h0M955.11 801.51h0M955.35 799.9h0M955.58 861.15h0M955.81 850.15h0M956.05 926.09h0M956.28 866.53h0M956.52 911.97h0M956.75 797.5h0M956.99 815.74h0M957.22 773.59h0M957.46 800.78h0M957.69 850.97h0M957.93 800.84h0M958.16 837.95h0M958.4 787.39h0M958.63 801.68h0M958.87 868.48h0M959.1 816.75h0M959.34 813.9h0M959.57 832.49h0M959.81 771.72h0M960.04 730.73h0M960.28 835.04h0M960.51 833.96h0M960.75 933.25h0M960.98 821.93h0M961.22 837.87h0M961.45 928.4h0M961.69 800.06h0M961.92 784.65h0M962.16 852.82h0M962.39 833.56h0M962.63 864.76h0M962.86 775.03h0M963.1 893.61h0M963.33 829.64h0M963.57 714.21h0M963.8 809.99h0M964.04 788.69h0M964.27 819.98h0M964.51 874.53h0M964.74 813.49h0M964.98 790.86h0M965.21 865.97h0M965.45 793.7h0M965.68 747.4h0M965.92 756.07h0M966.15 895.37h0M966.39 862.62h0M966.62 896.77h0M966.86 754.92h0M967.09 778.29h0M967.33 773.28h0M967.56 856.57h0M967.8 871.98h0M968.03 804.77h0M968.27 803.31h0M968.5 854.59h0M968.74 800.74h0M968.97 774.55h0M969.21 795.85h0M969.44 863.97h0M969.68 922.25h0M969.91 821.12h0M970.15 798.25h0M970.38 820.78h0M970.62 829.77h0M970.85 843.97h0M971.09 768.6h0M971.32 808.58h0M971.56 799.05h0M971.79 858.64h0M972.03 839.17h0M972.26 796.26h0M972.5 860.01h0M972.73 873.84h0M972.97 822.36h0M973.2 740.79h0M973.44 793.7h0M973.67 726.6h0M973.91 810.61h0M974.14 820.3h0M974.38 880.17h0M974.61 834.69h0M974.85 726.44h0M975.08 784.87h0M975.32 763.12h0M975.55 764.35h0M975.79 802.12h0M976.02 812.81h0M976.26 794.8h0M976.49 765.14h0M976.73 776.28h0M976.96 774.22h0M977.2 792.04h0M977.43 843.33h0M977.67 814.56h0M977.9 852.64h0M978.14 745.49h0M978.37 917.77h0M978.61 811.28h0M978.84 670.28h0M979.08 817.87h0M979.31 862.58h0M979.55 799.13h0M979.78 728.24h0M980.02 806.79h0M980.25 764.26h0M980.49 791.83h0M980.72 818.26h0M981.19 792.73h0M981.43 827.01h0M981.66 824.12h0M981.9 775.25h0M982.13 773.47h0M982.37 753.5h0M982.6 787.61h0M982.84 876.94h0M983.07 765.88h0M983.31 812.32h0M983.54 810.8h0M983.78 879.14h0M984.01 826.85h0M984.25 835.44h0M984.48 795.65h0M984.72 876.72h0M984.95 790.35h0M985.19 786.11h0M985.42 857.01h0M985.66 828.37h0M985.89 841.56h0M986.13 742.33h0M986.36 937.29h0M986.6 811.37h0M986.83 887.01h0M987.07 816.04h0M987.3 744.49h0M987.54 827.1h0M987.77 782.93h0M988.01 839.06h0M988.24 683.48h0M988.48 739.66h0M988.71 727.65h0M988.95 866.21h0M989.18 852.9h0M989.42 729.54h0M989.65 800.05h0M989.89 803.52h0M990.12 769.97h0M990.36 860.88h0M990.59 745.29h0M990.83 786.72h0M991.06 761.04h0M991.3 826.22h0M991.53 758.71h0M991.77 827.81h0M992 733.85h0M992.24 723.91h0M992.47 735.73h0M992.71 757.41h0M992.94 750.68h0M993.18 943.13h0M993.41 739.07h0M993.65 801.13h0M993.88 779.68h0M994.12 801.28h0M994.35 865.68h0M994.59 815.75h0M994.82 747.49h0M995.06 705.05h0M995.29 820.08h0M995.53 836.31h0M995.76 702.4h0M996 834.67h0M996.23 667.25h0M996.46 779.79h0M996.7 834.15h0M996.93 727.26h0M997.17 687.45h0M997.4 865.91h0M997.64 694.46h0M997.87 797.87h0M998.11 698.03h0M998.34 803.28h0M998.58 873.4h0M998.81 752.41h0M999.05 728.4h0M999.28 662.65h0M999.52 683.27h0M999.75 740.68h0M999.99 793.46h0M1000.22 809.93h0M1000.46 796.42h0M1000.69 827.83h0M1000.93 794.82h0M1001.16 928.59h0M1001.4 768.15h0M1001.63 779.71h0M1002.1 734.87h0M1002.34 805.77h0M1002.57 745.35h0M1002.81 849.51h0M1003.04 812.44h0M1003.28 887.17h0M1003.51 695.29h0M1003.75 742.64h0M1003.98 845.64h0M1004.22 779.31h0M1004.45 721.83h0M1004.69 747.31h0M1004.92 753.48h0M1005.16 825.87h0M1005.39 812.57h0M1005.63 769.1h0M1005.86 722.14h0M1006.1 823.41h0M1006.33 840.64h0M1006.57 708.78h0M1006.8 828.9h0M1007.04 712.11h0M1007.27 759.26h0M1007.51 722.8h0M1007.74 673.51h0M1007.98 733.3h0M1008.21 728.11h0M1008.45 826.89h0M1008.68 813.4h0M1008.92 734.97h0M1009.15 684.03h0M1009.39 691.9h0M1009.86 753.11h0M1010.09 759.07h0M1010.33 713h0M1010.56 769.16h0M1010.8 773.79h0M1011.03 832.69h0M1011.27 712.97h0M1011.5 833.82h0M1011.74 739.93h0M1011.97 854.34h0M1012.21 706.07h0M1012.44 830.53h0M1012.68 720.11h0M1012.91 863.93h0M1013.15 794.54h0M1013.38 700.25h0M1013.62 816.2h0M1013.85 763.61h0M1014.09 796.13h0M1014.32 906.42h0M1014.56 749.17h0M1014.79 741.82h0M1015.03 833.41h0M1015.26 733.28h0M1015.5 814.21h0M1015.73 826.59h0M1015.97 765.32h0M1016.2 806.76h0M1016.67 859.32h0M1016.91 722.32h0M1017.14 707.65h0M1017.38 884.59h0M1017.61 869.47h0M1017.85 731.66h0M1018.08 793.22h0M1018.32 741.6h0M1018.55 697.66h0M1018.79 786.03h0M1019.02 827.92h0M1019.26 929.07h0M1019.49 750.98h0M1019.73 819.19h0M1019.96 744.29h0M1020.2 748.84h0M1020.43 846.47h0M1020.67 661.79h0M1020.9 698.78h0M1021.14 712.23h0M1021.37 833.65h0M1021.61 786.03h0M1021.84 794.38h0M1022.08 786.13h0M1022.31 829.32h0M1022.55 735.09h0M1022.78 746.87h0M1023.02 738.74h0M1023.25 790.84h0M1023.49 684.36h0M1023.72 748.53h0M1023.96 927.15h0M1024.19 798.38h0M1024.43 762.44h0M1024.66 702.34h0M1024.9 777.05h0M1025.13 773.76h0M1025.37 798.95h0M1025.6 719.08h0M1025.84 785.38h0M1026.07 794.8h0M1026.31 803.17h0M1026.54 724.69h0M1026.78 789.97h0M1027.01 860.22h0M1027.25 720.24h0M1027.48 799.85h0M1027.72 735.46h0M1027.95 734.29h0M1028.19 685.32h0M1028.42 694.47h0M1028.66 791.25h0M1028.89 765.84h0M1029.13 835.16h0M1029.36 656.41h0M1029.6 729.01h0M1029.83 672.66h0M1030.07 774.44h0M1030.3 881.44h0M1030.54 663.95h0M1030.77 748.67h0M1031.01 746.13h0M1031.24 750.55h0M1031.48 715.55h0M1031.71 721.96h0M1031.95 852.1h0M1032.18 688.83h0M1032.42 785.85h0M1032.65 781.85h0M1032.89 650.31h0M1033.12 697.92h0M1033.36 773.35h0M1033.59 867.74h0M1033.83 742.38h0M1034.06 719.83h0M1034.3 756.66h0M1034.53 829.18h0M1034.77 800.64h0M1035 829.49h0M1035.24 738.17h0M1035.47 702.07h0M1035.71 689.63h0M1035.94 796.26h0M1036.18 736.33h0M1036.41 717.16h0M1036.64 781.99h0M1036.88 759.14h0M1037.35 737.29h0M1037.58 696.66h0M1037.82 776.47h0M1038.05 746.55h0M1038.29 856.45h0M1038.52 750.31h0M1038.76 677.28h0M1039.23 676.65h0M1039.46 706.99h0M1039.7 744.78h0M1039.93 785.54h0M1040.17 757.73h0M1040.4 710.75h0M1040.64 796.78h0M1040.87 691.19h0M1041.11 809.06h0M1041.34 859.06h0M1041.58 810.56h0M1041.81 851.66h0M1042.05 833.05h0M1042.28 678.19h0M1042.52 758.77h0M1042.75 732.82h0M1042.99 676.11h0M1043.22 669.85h0M1043.46 777.46h0M1043.69 665.31h0M1043.93 722.05h0M1044.16 744.89h0M1044.4 718.27h0M1044.63 835.16h0M1044.87 794.5h0M1045.1 751.38h0M1045.34 707.53h0M1045.57 767.84h0M1045.81 752.17h0M1046.04 685.3h0M1046.28 658.37h0M1046.51 697.22h0M1046.75 666.7h0M1046.98 769.11h0M1047.22 762.75h0M1047.45 723.8h0M1047.69 762.14h0M1047.92 775.14h0M1048.39 755.38h0M1048.63 804.03h0M1048.86 712.67h0M1049.33 737.1h0M1049.57 666.98h0M1049.8 769.73h0M1050.04 773.02h0M1050.27 785.59h0M1050.51 750.53h0M1050.98 815.06h0M1051.45 805.44h0M1051.68 755.69h0M1051.92 689.54h0M1052.15 701.95h0M1052.39 723.09h0M1052.62 846.05h0M1052.86 717.92h0M1053.09 805.61h0M1053.56 753.41h0M1053.8 728.01h0M1054.03 813.2h0M1054.27 770.14h0M1054.5 822.31h0M1054.74 678.89h0M1054.97 755.84h0M1055.21 704.31h0M1055.44 782.85h0M1055.68 770.92h0M1055.91 659.34h0M1056.15 801.07h0M1056.38 854.55h0M1056.62 713.15h0M1056.85 811.75h0M1057.09 766.3h0M1057.32 681.66h0M1057.56 790.62h0M1057.79 683.43h0M1058.03 781.54h0M1058.5 655.48h0M1058.73 767.65h0M1058.97 750.82h0M1059.2 790.83h0M1059.44 724.43h0M1059.67 665.66h0M1059.91 830.48h0M1060.14 679.72h0M1060.38 822.35h0M1060.61 792.11h0M1060.85 852.35h0M1061.32 732.3h0M1061.55 720.66h0M1061.79 779.74h0M1062.02 669.45h0M1062.26 872.54h0M1062.49 733.77h0M1062.96 760.14h0M1063.2 734.06h0M1063.43 693.24h0M1063.67 787.9h0M1063.9 733.41h0M1064.14 674.94h0M1064.37 722.54h0M1064.61 711.44h0M1064.84 757.3h0M1065.08 714.69h0M1065.31 730.79h0M1065.78 688.89h0M1066.02 749.95h0M1066.25 894.28h0M1066.49 689.11h0M1066.72 686.54h0M1066.96 793.79h0M1067.19 864.72h0M1067.43 808.43h0M1067.66 675.43h0M1067.9 803.25h0M1068.13 763.41h0M1068.37 719.31h0M1068.6 656.32h0M1068.84 734.14h0M1069.07 739.47h0M1069.31 768.93h0M1069.78 665.72h0M1070.01 738.82h0M1070.25 824.57h0M1070.48 784.52h0M1070.72 695.89h0M1070.95 779.87h0M1071.19 676.04h0M1071.42 709.34h0M1071.66 713.59h0M1071.89 690.79h0M1072.13 700.46h0M1072.36 788.37h0M1072.6 753.28h0M1073.07 811.58h0M1073.3 762.95h0M1073.54 664.17h0M1073.77 741.93h0M1074.01 785.17h0M1074.24 819.03h0M1074.48 697.29h0M1074.71 666.62h0M1075.18 727.58h0M1075.42 664.77h0M1075.65 799.54h0M1075.89 720.15h0M1076.12 775.81h0M1076.36 719.66h0M1076.59 683.01h0M1076.83 662.7h0M1077.06 796.46h0M1077.53 762.02h0M1077.76 798.75h0M1078 741.67h0M1078.23 827.85h0M1078.47 729.89h0M1078.7 711.69h0M1078.94 743.46h0M1079.17 695.89h0M1079.41 751.01h0M1079.64 729.67h0M1079.88 826.28h0M1080.11 727.11h0M1080.35 786.77h0M1080.58 759.86h0M1080.82 735.97h0M1081.05 717.46h0M1081.29 840.02h0M1081.52 834.43h0M1081.76 749.78h0M1081.99 699.15h0M1082.23 706.4h0M1082.46 672.29h0M1082.93 697.54h0M1083.17 730.62h0" stroke="#000" stroke-width="2.7" stroke-linecap="round" fill="none"/>
<polyline points="636.5,1018.48 637.11,1017.55 637.72,1016.5 638.33,1015.33 638.94,1014.05 639.55,1012.66 640.16,1011.15 640.77,1009.55 641.38,1007.84 641.99,1006.04 642.6,1004.14 643.22,1002.14 643.83,1000.06 644.44,997.9 645.05,995.65 645.66,993.33 646.27,990.92 646.88,988.45 647.49,985.91 648.1,983.3 648.71,980.63 649.32,977.9 649.93,975.12 650.54,972.28 651.15,969.39 651.76,966.46 652.37,963.49 652.98,960.47 653.59,957.42 654.2,954.35 654.81,951.25 655.42,948.13 656.03,945.01 656.65,941.87 657.26,938.74 657.87,935.61 658.48,932.49 659.09,929.39 659.7,926.31 660.31,923.26 660.92,920.24 661.53,917.27 662.14,914.33 662.75,911.45 663.36,908.62 663.97,905.85 664.58,903.15 665.19,900.52 665.8,897.97 666.41,895.49 667.02,893.09 667.63,890.77 668.24,888.51 668.85,886.32 669.46,884.2 670.08,882.15 670.69,880.16 671.3,878.24 671.91,876.37 672.52,874.57 673.13,872.82 673.74,871.12 674.35,869.48 674.96,867.9 675.57,866.36 676.18,864.87 676.79,863.43 677.4,862.04 678.01,860.68 678.62,859.37 679.23,858.1 679.84,856.87 680.45,855.67 681.06,854.52 681.67,853.39 682.28,852.3 682.9,851.25 683.51,850.23 684.12,849.24 684.73,848.28" fill="none" stroke="#000" stroke-width="3.4" stroke-linecap="round" stroke-linejoin="round"/>
<line x1="636.5" y1="647.4" x2="636.5" y2="1020.75" stroke="#000" stroke-width="3.3"/>
<line x1="634.85" y1="1019.1" x2="1097.45" y2="1019.1" stroke="#000" stroke-width="3.3"/>
<line x1="636.5" y1="1019.1" x2="636.5" y2="1026.1" stroke="#000" stroke-width="3.3"/>
<line x1="693.91" y1="1019.1" x2="693.91" y2="1022.7" stroke="#000" stroke-width="3.3"/>
<line x1="751.33" y1="1019.1" x2="751.33" y2="1026.1" stroke="#000" stroke-width="3.3"/>
<line x1="808.74" y1="1019.1" x2="808.74" y2="1022.7" stroke="#000" stroke-width="3.3"/>
<line x1="866.15" y1="1019.1" x2="866.15" y2="1026.1" stroke="#000" stroke-width="3.3"/>
<line x1="923.56" y1="1019.1" x2="923.56" y2="1022.7" stroke="#000" stroke-width="3.3"/>
<line x1="980.97" y1="1019.1" x2="980.97" y2="1026.1" stroke="#000" stroke-width="3.3"/>
<line x1="1038.39" y1="1019.1" x2="1038.39" y2="1022.7" stroke="#000" stroke-width="3.3"/>
<line x1="1095.8" y1="1019.1" x2="1095.8" y2="1026.1" stroke="#000" stroke-width="3.3"/>
<line x1="636.5" y1="1019.1" x2="629.5" y2="1019.1" stroke="#000" stroke-width="3.3"/>
<line x1="636.5" y1="957.42" x2="632.9" y2="957.42" stroke="#000" stroke-width="3.3"/>
<line x1="636.5" y1="895.73" x2="629.5" y2="895.73" stroke="#000" stroke-width="3.3"/>
<line x1="636.5" y1="834.05" x2="632.9" y2="834.05" stroke="#000" stroke-width="3.3"/>
<line x1="636.5" y1="772.37" x2="629.5" y2="772.37" stroke="#000" stroke-width="3.3"/>
<line x1="636.5" y1="710.68" x2="632.9" y2="710.68" stroke="#000" stroke-width="3.3"/>
<line x1="636.5" y1="649" x2="629.5" y2="649" stroke="#000" stroke-width="3.3"/>
<text x="624.8" y="1026.5" font-size="26" text-anchor="end" >0</text>
<text x="624.8" y="903.13" font-size="26" text-anchor="end" >1</text>
<text x="624.8" y="779.77" font-size="26" text-anchor="end" >2</text>
<text x="624.8" y="656.4" font-size="26" text-anchor="end" >3</text>
<text x="637.3" y="1050" font-size="26" text-anchor="middle" >0</text>
<text x="752.12" y="1050" font-size="26" text-anchor="middle" >5</text>
<text x="866.95" y="1050" font-size="26" text-anchor="middle" >10</text>
<text x="981.77" y="1050" font-size="26" text-anchor="middle" >15</text>
<text x="1096.6" y="1050" font-size="26" text-anchor="middle" >20</text>
<text x="842" y="1089.7" font-size="26.5">s*R<tspan dy="6.3">g</tspan></text>
<text transform="translate(596.8,829.6) rotate(-90)" font-size="26.2" text-anchor="middle">(s*R<tspan dy="6">g</tspan><tspan dy="-6">)</tspan><tspan font-size="15.5" dy="-9.5" dx="0.5">2</tspan><tspan dy="9.5" dx="2.5">*I/I(0)</tspan></text>
<path d="M1257.3 1016.8h0M1258.97 1008.33h0M1260.64 999.99h0M1262.31 991.67h0M1263.98 983.3h0M1265.65 974.77h0M1267.31 966h0M1268.98 956.89h0M1270.65 947.38h0M1272.32 937.48h0M1273.99 927.26h0M1275.66 916.78h0M1277.33 906.08h0M1279 895.23h0M1280.67 884.28h0M1282.34 873.27h0M1284.01 862.25h0M1285.68 851.24h0M1287.34 840.28h0M1289.01 829.41h0M1290.68 818.68h0M1292.35 808.1h0M1294.02 797.73h0M1295.69 787.6h0M1297.36 777.75h0M1299.03 768.2h0M1300.7 759.01h0M1302.37 750.19h0M1304.04 741.75h0M1305.71 733.71h0M1307.37 726.06h0M1309.04 718.82h0M1310.71 711.98h0M1312.38 705.57h0M1314.05 699.57h0M1315.72 694.01h0M1317.39 688.88h0M1319.06 684.2h0M1320.73 679.96h0M1322.4 676.19h0M1324.07 672.87h0M1325.74 670.03h0M1327.4 667.66h0M1329.07 665.78h0M1330.74 664.36h0M1332.41 663.38h0M1334.08 662.83h0M1335.75 662.67h0M1337.42 662.89h0M1339.09 663.45h0M1340.76 664.34h0M1342.43 665.53h0M1344.1 667h0M1345.77 668.72h0M1347.43 670.66h0M1349.1 672.82h0M1350.77 675.15h0M1352.44 677.64h0M1354.11 680.26h0M1355.78 683h0M1357.45 685.84h0M1359.12 688.78h0M1360.79 691.8h0M1362.46 694.89h0M1364.13 698.03h0M1365.79 701.22h0M1367.46 704.44h0M1369.13 707.69h0M1370.8 710.94h0M1372.47 714.19h0M1374.14 717.43h0M1375.81 720.64h0M1377.48 723.81h0M1379.15 726.93h0M1380.82 729.98h0M1382.49 732.97h0M1384.16 735.88h0M1385.82 738.72h0M1387.49 741.49h0M1389.16 744.2h0M1390.83 746.86h0M1392.5 749.46h0M1394.17 752.01h0M1395.84 754.52h0M1397.51 756.98h0M1399.18 759.41h0M1400.85 761.8h0M1402.52 764.17h0M1404.19 766.51h0M1405.85 768.83h0M1407.52 771.13h0M1409.19 773.41h0M1410.86 775.69h0M1412.53 777.97h0M1414.2 780.24h0M1415.87 782.52h0M1417.54 784.8h0M1419.21 787.09h0M1420.88 789.4h0M1422.55 791.73h0M1424.22 794.09h0M1425.88 796.47h0M1427.55 798.88h0M1429.22 801.32h0M1430.89 803.78h0M1432.56 806.28h0M1434.23 808.79h0M1435.9 811.32h0M1437.57 813.87h0M1439.24 816.43h0M1440.91 819h0M1442.58 821.58h0M1444.25 824.16h0M1445.91 826.75h0M1447.58 829.34h0M1449.25 831.93h0M1450.92 834.51h0M1452.59 837.08h0M1454.26 839.64h0M1455.93 842.19h0M1457.6 844.73h0M1459.27 847.24h0M1460.94 849.73h0M1462.61 852.2h0M1464.28 854.65h0M1465.94 857.08h0M1467.61 859.48h0M1469.28 861.87h0M1470.95 864.24h0M1472.62 866.59h0M1474.29 868.92h0M1475.96 871.24h0M1477.63 873.55h0M1479.3 875.85h0M1480.97 878.13h0M1482.64 880.41h0M1484.3 882.68h0M1485.97 884.95h0M1487.64 887.21h0M1489.31 889.46h0M1490.98 891.72h0M1492.65 893.97h0M1494.32 896.22h0M1495.99 898.48h0M1497.66 900.74h0M1499.33 903h0M1501 905.27h0M1502.67 907.54h0M1504.33 909.81h0M1506 912.08h0M1507.67 914.35h0M1509.34 916.62h0M1511.01 918.87h0M1512.68 921.11h0M1514.35 923.34h0M1516.02 925.55h0M1517.69 927.74h0M1519.36 929.91h0M1521.03 932.05h0M1522.7 934.16h0M1524.36 936.25h0M1526.03 938.3h0M1527.7 940.31h0M1529.37 942.28h0M1531.04 944.21h0M1532.71 946.1h0M1534.38 947.94h0M1536.05 949.72h0M1537.72 951.46h0M1539.39 953.15h0M1541.06 954.78h0M1542.73 956.36h0M1544.39 957.88h0M1546.06 959.35h0M1547.73 960.76h0M1549.4 962.11h0M1551.07 963.4h0M1552.74 964.63h0M1554.41 965.79h0M1556.08 966.9h0M1557.75 967.94h0M1559.42 968.91h0M1561.09 969.82h0M1562.76 970.66h0M1564.42 971.43h0M1566.09 972.13h0M1567.76 972.76h0M1569.43 973.32h0M1571.1 973.81h0M1572.77 974.24h0M1574.44 974.62h0M1576.11 974.95h0M1577.78 975.23h0M1579.45 975.48h0M1581.12 975.69h0M1582.78 975.88h0M1584.45 976.04h0M1586.12 976.2h0M1587.79 976.34h0M1589.46 976.48h0M1591.13 976.63h0M1592.8 976.78h0M1594.47 976.95h0M1596.14 977.14h0M1597.81 977.35h0M1599.48 977.6h0M1601.15 977.88h0M1602.81 978.21h0M1604.48 978.6h0M1606.15 979.05h0M1607.82 979.6h0M1609.49 980.25h0M1611.16 981.03h0M1612.83 981.95h0M1614.5 983.02h0M1616.17 984.26h0M1617.84 985.7h0M1619.51 987.34h0M1621.18 989.21h0M1622.84 991.31h0M1624.51 993.68h0M1626.18 996.3h0M1627.85 999.14h0M1629.52 1002.13h0M1631.19 1005.21h0M1632.86 1008.32h0M1634.53 1011.39h0M1636.2 1014.38h0M1637.87 1017.21h0" stroke="#000" stroke-width="4.8" stroke-linecap="round" fill="none"/>
<line x1="1257.3" y1="647.2" x2="1257.3" y2="1020.65" stroke="#000" stroke-width="3.3"/>
<line x1="1255.65" y1="1019" x2="1718.35" y2="1019" stroke="#000" stroke-width="3.3"/>
<line x1="1257.3" y1="1019" x2="1257.3" y2="1026" stroke="#000" stroke-width="3.3"/>
<line x1="1333.87" y1="1019" x2="1333.87" y2="1022.6" stroke="#000" stroke-width="3.3"/>
<line x1="1410.43" y1="1019" x2="1410.43" y2="1026" stroke="#000" stroke-width="3.3"/>
<line x1="1487" y1="1019" x2="1487" y2="1022.6" stroke="#000" stroke-width="3.3"/>
<line x1="1563.57" y1="1019" x2="1563.57" y2="1026" stroke="#000" stroke-width="3.3"/>
<line x1="1640.13" y1="1019" x2="1640.13" y2="1022.6" stroke="#000" stroke-width="3.3"/>
<line x1="1716.7" y1="1019" x2="1716.7" y2="1026" stroke="#000" stroke-width="3.3"/>
<line x1="1257.3" y1="1019" x2="1250.3" y2="1019" stroke="#000" stroke-width="3.3"/>
<line x1="1257.3" y1="957.3" x2="1253.7" y2="957.3" stroke="#000" stroke-width="3.3"/>
<line x1="1257.3" y1="895.6" x2="1250.3" y2="895.6" stroke="#000" stroke-width="3.3"/>
<line x1="1257.3" y1="833.9" x2="1253.7" y2="833.9" stroke="#000" stroke-width="3.3"/>
<line x1="1257.3" y1="772.2" x2="1250.3" y2="772.2" stroke="#000" stroke-width="3.3"/>
<line x1="1257.3" y1="710.5" x2="1253.7" y2="710.5" stroke="#000" stroke-width="3.3"/>
<line x1="1257.3" y1="648.8" x2="1250.3" y2="648.8" stroke="#000" stroke-width="3.3"/>
<text x="1245.5" y="1026.4" font-size="26" text-anchor="end" >0</text>
<text x="1245.5" y="903" font-size="26" text-anchor="end" >1</text>
<text x="1245.5" y="779.6" font-size="26" text-anchor="end" >2</text>
<text x="1245.5" y="656.2" font-size="26" text-anchor="end" >3</text>
<text x="1258.1" y="1050" font-size="26" text-anchor="middle" >0</text>
<text x="1411.23" y="1050" font-size="26" text-anchor="middle" >5</text>
<text x="1564.37" y="1050" font-size="26" text-anchor="middle" >10</text>
<text x="1717.5" y="1050" font-size="26" text-anchor="middle" >15</text>
<text x="1489.9" y="1089.7" font-size="27" text-anchor="middle" >r (nm)</text>
<text transform="translate(1222.6,831.4) rotate(-90)" font-size="27" text-anchor="middle">P(r)</text>
</svg>
</body></html>
